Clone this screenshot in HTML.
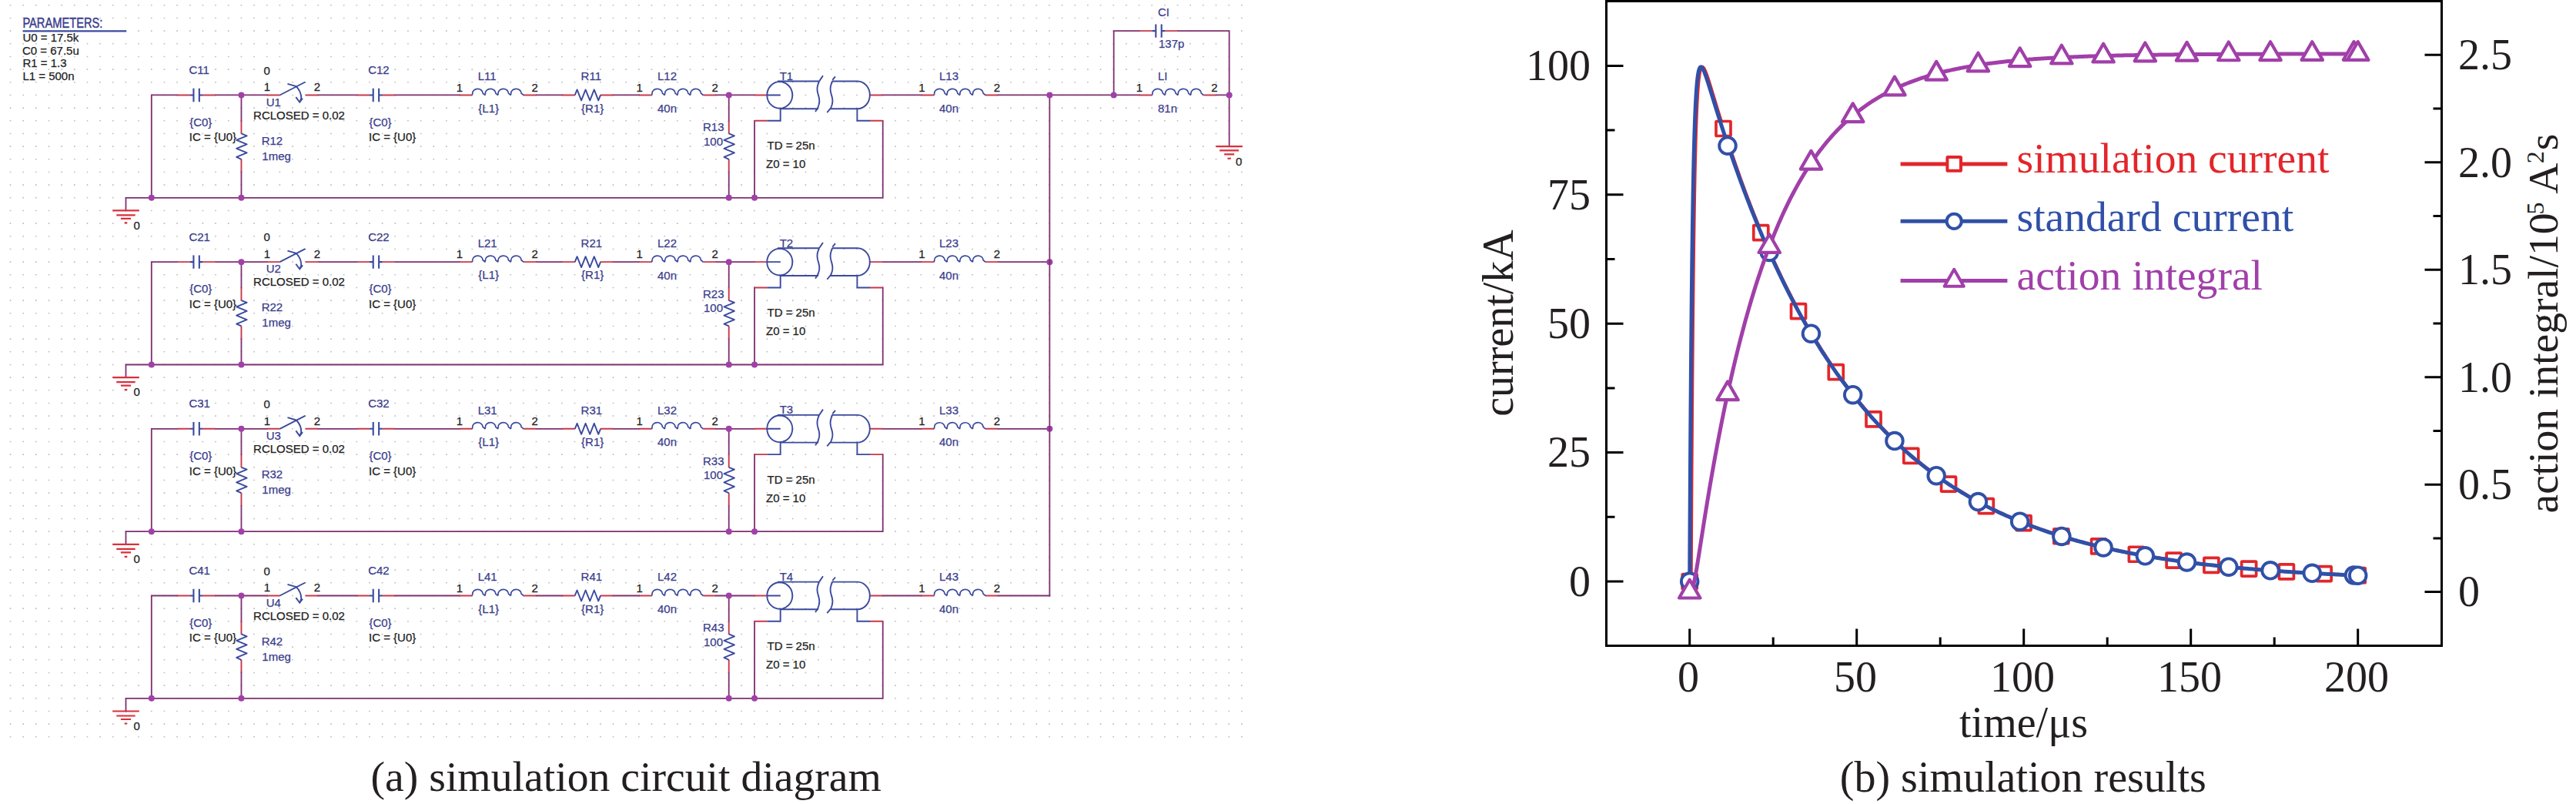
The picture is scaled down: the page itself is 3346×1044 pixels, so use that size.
<!DOCTYPE html>
<html><head><meta charset="utf-8"><title>figure</title>
<style>
html,body{margin:0;padding:0;background:#fff;}
body{width:3346px;height:1044px;overflow:hidden;position:relative;}
svg{position:absolute;left:0;top:0;display:block;}
</style></head><body>
<svg width="3346" height="1044" viewBox="0 0 3346 1044">
<defs><clipPath id="plotclip"><rect x="2088" y="3" width="1082" height="834"/></clipPath></defs>
<rect width="3346" height="1044" fill="#fff"/>
<path d="M12.7 6.8H1614.14M12.7 23.47H1614.14M12.7 40.13H1614.14M12.7 56.8H1614.14M12.7 73.47H1614.14M12.7 90.14H1614.14M12.7 106.8H1614.14M12.7 123.47H1614.14M12.7 140.14H1614.14M12.7 156.8H1614.14M12.7 173.47H1614.14M12.7 190.14H1614.14M12.7 206.8H1614.14M12.7 223.47H1614.14M12.7 240.14H1614.14M12.7 256.81H1614.14M12.7 273.47H1614.14M12.7 290.14H1614.14M12.7 306.81H1614.14M12.7 323.47H1614.14M12.7 340.14H1614.14M12.7 356.81H1614.14M12.7 373.47H1614.14M12.7 390.14H1614.14M12.7 406.81H1614.14M12.7 423.48H1614.14M12.7 440.14H1614.14M12.7 456.81H1614.14M12.7 473.48H1614.14M12.7 490.14H1614.14M12.7 506.81H1614.14M12.7 523.48H1614.14M12.7 540.14H1614.14M12.7 556.81H1614.14M12.7 573.48H1614.14M12.7 590.14H1614.14M12.7 606.81H1614.14M12.7 623.48H1614.14M12.7 640.15H1614.14M12.7 656.81H1614.14M12.7 673.48H1614.14M12.7 690.15H1614.14M12.7 706.81H1614.14M12.7 723.48H1614.14M12.7 740.15H1614.14M12.7 756.82H1614.14M12.7 773.48H1614.14M12.7 790.15H1614.14M12.7 806.82H1614.14M12.7 823.48H1614.14M12.7 840.15H1614.14M12.7 856.82H1614.14M12.7 873.48H1614.14M12.7 890.15H1614.14M12.7 906.82H1614.14M12.7 923.49H1614.14M12.7 940.15H1614.14M12.7 956.82H1614.14" stroke="#bababa" stroke-width="1.6" stroke-dasharray="1.6 15.06" fill="none"/>
<path d="M196.81 123.47L230.14 123.47M280.14 123.47L346.8 123.47M413.46 123.47L463.45 123.47M513.45 123.47L596.77 123.47M696.76 123.47L730.09 123.47M796.75 123.47L830.08 123.47M930.07 123.47L980.07 123.47M1146.72 123.47L1196.71 123.47M1296.7 123.47L1363.37 123.47M196.81 123.47L196.81 256.81M313.47 123.47L313.47 156.8M313.47 223.47L313.47 256.81M946.74 123.47L946.74 156.8M946.74 223.47L946.74 256.81M980.07 156.8L980.07 256.81M1146.72 156.8L1146.72 256.81M163.48 256.81L1146.72 256.81M163.48 256.81L163.48 273.47" stroke="#7e3070" stroke-width="1.8" fill="none" stroke-linecap="square"/>
<path d="M230.14 123.47L246.81 123.47M263.48 123.47L280.14 123.47M346.8 123.47L363.46 123.47M396.79 123.47L413.46 123.47M463.45 123.47L480.12 123.47M496.78 123.47L513.45 123.47M596.77 123.47L613.44 123.47M680.1 123.47L696.76 123.47M730.09 123.47L746.76 123.47M780.09 123.47L796.75 123.47M830.08 123.47L846.75 123.47M913.41 123.47L930.07 123.47M980.07 123.47L996.73 123.47M1130.05 123.47L1146.72 123.47M980.07 156.8L996.73 156.8M1130.05 156.8L1146.72 156.8M1196.71 123.47L1213.38 123.47M1280.04 123.47L1296.7 123.47M313.47 156.8L313.47 173.47M313.47 206.8L313.47 223.47M946.74 156.8L946.74 173.47M946.74 206.8L946.74 223.47" stroke="#c8384a" stroke-width="1.9" fill="none"/>
<path d="M246.81 123.47H251.44M251.44 114.77V132.17M258.84 114.77V132.17M258.84 123.47H263.47" stroke="#3b4a9e" stroke-width="2.1" fill="none" />
<path d="M480.12 123.47H484.75M484.75 114.77V132.17M492.15 114.77V132.17M492.15 123.47H496.78" stroke="#3b4a9e" stroke-width="2.1" fill="none" />
<path d="M363.46 123.47L396.46 106.47M373.46 108.87L384.86 112.17M384.86 112.17Q391.66 119.47 391.26 127.97L389.26 132.77M384.36 126.07L389.26 132.77L393.06 127.77" stroke="#3b4a9e" stroke-width="1.9" fill="none" />
<path d="M613.44 123.47L613.74 121.27A6.7 5.8 0 0 1 627.14 121.07L630.11 123.47M630.11 123.47L630.4 121.27A6.7 5.8 0 0 1 643.81 121.07L646.77 123.47M646.77 123.47L647.07 121.27A6.7 5.8 0 0 1 660.47 121.07L663.43 123.47M663.43 123.47L663.73 121.27A6.7 5.8 0 0 1 677.13 121.07L680.1 123.47" stroke="#3b4a9e" stroke-width="1.7" fill="none" />
<path d="M746.76 123.47L749.59 116.47L755.09 130.47L760.59 116.47L766.26 130.47L771.76 116.47L777.26 130.47L780.09 123.47" stroke="#3b4a9e" stroke-width="1.9" fill="none" stroke-linejoin="round"/>
<path d="M846.75 123.47L847.05 121.27A6.7 5.8 0 0 1 860.45 121.07L863.41 123.47M863.41 123.47L863.71 121.27A6.7 5.8 0 0 1 877.12 121.07L880.08 123.47M880.08 123.47L880.38 121.27A6.7 5.8 0 0 1 893.78 121.07L896.75 123.47M896.75 123.47L897.04 121.27A6.7 5.8 0 0 1 910.45 121.07L913.41 123.47" stroke="#3b4a9e" stroke-width="1.7" fill="none" />
<path d="M1213.38 123.47L1213.68 121.27A6.7 5.8 0 0 1 1227.08 121.07L1230.04 123.47M1230.04 123.47L1230.34 121.27A6.7 5.8 0 0 1 1243.74 121.07L1246.71 123.47M1246.71 123.47L1247.01 121.27A6.7 5.8 0 0 1 1260.41 121.07L1263.38 123.47M1263.38 123.47L1263.67 121.27A6.7 5.8 0 0 1 1277.08 121.07L1280.04 123.47" stroke="#3b4a9e" stroke-width="1.7" fill="none" />
<path d="M313.47 173.47L320.67 176.3L307.17 181.8L320.67 187.3L307.17 192.97L320.67 198.47L307.17 203.97L313.47 206.8" stroke="#3b4a9e" stroke-width="1.9" fill="none" stroke-linejoin="round"/>
<path d="M946.74 173.47L953.94 176.3L940.44 181.8L953.94 187.3L940.44 192.97L953.94 198.47L940.44 203.97L946.74 206.8" stroke="#3b4a9e" stroke-width="1.9" fill="none" stroke-linejoin="round"/>
<ellipse cx="1012.8" cy="123.47" rx="16.5" ry="17.3" stroke="#3b4a9e" stroke-width="1.9" fill="none"/>
<path d="M996.4 123.47L1013.7 123.47M1010 105.57L1064 105.57M1013.7 141.27L1063 141.27M1064.2 105.37L1063.57 106.86L1062.98 108.36L1062.46 109.86L1062.03 111.35L1061.73 112.85L1061.55 114.34L1061.51 115.84L1061.6 117.34L1061.81 118.83L1062.12 120.33L1062.49 121.82L1062.9 123.32L1063.31 124.81L1063.68 126.31L1063.99 127.81L1064.2 129.3L1064.29 130.8L1064.25 132.29L1064.07 133.79L1063.77 135.29L1063.34 136.78L1062.82 138.28L1062.23 139.77L1061.6 141.27M1064.2 105.37L1069 98.27M1061.9 140.87L1059 144.97M1081.3 105.37L1080.67 106.86L1080.08 108.36L1079.56 109.86L1079.13 111.35L1078.83 112.85L1078.65 114.34L1078.61 115.84L1078.7 117.34L1078.91 118.83L1079.22 120.33L1079.59 121.82L1080 123.32L1080.41 124.81L1080.78 126.31L1081.09 127.81L1081.3 129.3L1081.39 130.8L1081.35 132.29L1081.17 133.79L1080.87 135.29L1080.44 136.78L1079.92 138.28L1079.33 139.77L1078.7 141.27M1081.3 103.97L1085 99.47M1078.7 140.87L1074.3 146.07M1080.7 105.57L1113.9 105.57A16.2 17.85 0 0 1 1113.4 141.27M1078.9 141.27L1113.4 141.27M1013.7 141.27L1013.7 156.8L996.73 156.8M1113.4 141.27L1113.4 156.8L1130.07 156.8" stroke="#3b4a9e" stroke-width="1.9" fill="none" />
<path d="M146.28 273.47H180.68M151.28 279.47H175.68M156.88 283.97H170.08M161.68 289.47H165.28" stroke="#d8303c" stroke-width="2.2" fill="none" />
<circle cx="313.47" cy="123.47" r="4" fill="#a040a8"/>
<circle cx="313.47" cy="256.81" r="4" fill="#a040a8"/>
<circle cx="196.81" cy="256.81" r="4" fill="#a040a8"/>
<circle cx="946.74" cy="123.47" r="4" fill="#a040a8"/>
<circle cx="946.74" cy="256.81" r="4" fill="#a040a8"/>
<circle cx="980.07" cy="256.81" r="4" fill="#a040a8"/>
<text x="245.4" y="96" fill="#3a3d8c" font-family="'Liberation Sans', sans-serif" font-size="15" stroke="#3a3d8c" stroke-width="0.25">C11</text>
<text x="346.7" y="96.5" fill="#222" font-family="'Liberation Sans', sans-serif" font-size="15" text-anchor="middle" stroke="#222" stroke-width="0.25">0</text>
<text x="346.8" y="118.3" fill="#222" font-family="'Liberation Sans', sans-serif" font-size="15" text-anchor="middle" stroke="#222" stroke-width="0.25">1</text>
<text x="412" y="118.3" fill="#222" font-family="'Liberation Sans', sans-serif" font-size="15" text-anchor="middle" stroke="#222" stroke-width="0.25">2</text>
<text x="345.7" y="137.6" fill="#3a3d8c" font-family="'Liberation Sans', sans-serif" font-size="15" stroke="#3a3d8c" stroke-width="0.25">U1</text>
<text x="329.1" y="154.6" fill="#222" font-family="'Liberation Sans', sans-serif" font-size="15" stroke="#222" stroke-width="0.25">RCLOSED = 0.02</text>
<text x="478.2" y="96" fill="#3a3d8c" font-family="'Liberation Sans', sans-serif" font-size="15" stroke="#3a3d8c" stroke-width="0.25">C12</text>
<text x="246.2" y="163.8" fill="#3a3d8c" font-family="'Liberation Sans', sans-serif" font-size="15" stroke="#3a3d8c" stroke-width="0.25">{C0}</text>
<text x="245.8" y="183.2" fill="#222" font-family="'Liberation Sans', sans-serif" font-size="15" stroke="#222" stroke-width="0.25">IC = {U0}</text>
<text x="339.7" y="187.8" fill="#3a3d8c" font-family="'Liberation Sans', sans-serif" font-size="15" stroke="#3a3d8c" stroke-width="0.25">R12</text>
<text x="340.3" y="207.8" fill="#3a3d8c" font-family="'Liberation Sans', sans-serif" font-size="15" stroke="#3a3d8c" stroke-width="0.25">1meg</text>
<text x="479.4" y="163.8" fill="#3a3d8c" font-family="'Liberation Sans', sans-serif" font-size="15" stroke="#3a3d8c" stroke-width="0.25">{C0}</text>
<text x="479" y="183.2" fill="#222" font-family="'Liberation Sans', sans-serif" font-size="15" stroke="#222" stroke-width="0.25">IC = {U0}</text>
<text x="597" y="118.5" fill="#222" font-family="'Liberation Sans', sans-serif" font-size="15" text-anchor="middle" stroke="#222" stroke-width="0.25">1</text>
<text x="694.7" y="118.5" fill="#222" font-family="'Liberation Sans', sans-serif" font-size="15" text-anchor="middle" stroke="#222" stroke-width="0.25">2</text>
<text x="620.7" y="104.2" fill="#3a3d8c" font-family="'Liberation Sans', sans-serif" font-size="15" stroke="#3a3d8c" stroke-width="0.25">L11</text>
<text x="621.3" y="145.6" fill="#3a3d8c" font-family="'Liberation Sans', sans-serif" font-size="15" stroke="#3a3d8c" stroke-width="0.25">{L1}</text>
<text x="754.6" y="104.2" fill="#3a3d8c" font-family="'Liberation Sans', sans-serif" font-size="15" stroke="#3a3d8c" stroke-width="0.25">R11</text>
<text x="755.1" y="145.6" fill="#3a3d8c" font-family="'Liberation Sans', sans-serif" font-size="15" stroke="#3a3d8c" stroke-width="0.25">{R1}</text>
<text x="830.6" y="118.5" fill="#222" font-family="'Liberation Sans', sans-serif" font-size="15" text-anchor="middle" stroke="#222" stroke-width="0.25">1</text>
<text x="928.7" y="118.5" fill="#222" font-family="'Liberation Sans', sans-serif" font-size="15" text-anchor="middle" stroke="#222" stroke-width="0.25">2</text>
<text x="854" y="104.2" fill="#3a3d8c" font-family="'Liberation Sans', sans-serif" font-size="15" stroke="#3a3d8c" stroke-width="0.25">L12</text>
<text x="854" y="146" fill="#3a3d8c" font-family="'Liberation Sans', sans-serif" font-size="15" stroke="#3a3d8c" stroke-width="0.25">40n</text>
<text x="913" y="170.2" fill="#3a3d8c" font-family="'Liberation Sans', sans-serif" font-size="15" stroke="#3a3d8c" stroke-width="0.25">R13</text>
<text x="914" y="188.6" fill="#3a3d8c" font-family="'Liberation Sans', sans-serif" font-size="15" stroke="#3a3d8c" stroke-width="0.25">100</text>
<text x="1012.7" y="104" fill="#3a3d8c" font-family="'Liberation Sans', sans-serif" font-size="15" stroke="#3a3d8c" stroke-width="0.25">T1</text>
<text x="996.5" y="194.2" fill="#222" font-family="'Liberation Sans', sans-serif" font-size="15" stroke="#222" stroke-width="0.25">TD = 25n</text>
<text x="995" y="218.2" fill="#222" font-family="'Liberation Sans', sans-serif" font-size="15" stroke="#222" stroke-width="0.25">Z0 = 10</text>
<text x="1197.5" y="118.5" fill="#222" font-family="'Liberation Sans', sans-serif" font-size="15" text-anchor="middle" stroke="#222" stroke-width="0.25">1</text>
<text x="1295" y="118.5" fill="#222" font-family="'Liberation Sans', sans-serif" font-size="15" text-anchor="middle" stroke="#222" stroke-width="0.25">2</text>
<text x="1220" y="104.3" fill="#3a3d8c" font-family="'Liberation Sans', sans-serif" font-size="15" stroke="#3a3d8c" stroke-width="0.25">L13</text>
<text x="1220" y="146" fill="#3a3d8c" font-family="'Liberation Sans', sans-serif" font-size="15" stroke="#3a3d8c" stroke-width="0.25">40n</text>
<text x="173.4" y="297.6" fill="#222" font-family="'Liberation Sans', sans-serif" font-size="15" stroke="#222" stroke-width="0.25">0</text>
<path d="M196.81 340.14L230.14 340.14M280.14 340.14L346.8 340.14M413.46 340.14L463.45 340.14M513.45 340.14L596.77 340.14M696.76 340.14L730.09 340.14M796.75 340.14L830.08 340.14M930.07 340.14L980.07 340.14M1146.72 340.14L1196.71 340.14M1296.7 340.14L1363.37 340.14M196.81 340.14L196.81 473.48M313.47 340.14L313.47 373.47M313.47 440.14L313.47 473.48M946.74 340.14L946.74 373.47M946.74 440.14L946.74 473.48M980.07 373.47L980.07 473.48M1146.72 373.47L1146.72 473.48M163.48 473.48L1146.72 473.48M163.48 473.48L163.48 490.14" stroke="#7e3070" stroke-width="1.8" fill="none" stroke-linecap="square"/>
<path d="M230.14 340.14L246.81 340.14M263.48 340.14L280.14 340.14M346.8 340.14L363.46 340.14M396.79 340.14L413.46 340.14M463.45 340.14L480.12 340.14M496.78 340.14L513.45 340.14M596.77 340.14L613.44 340.14M680.1 340.14L696.76 340.14M730.09 340.14L746.76 340.14M780.09 340.14L796.75 340.14M830.08 340.14L846.75 340.14M913.41 340.14L930.07 340.14M980.07 340.14L996.73 340.14M1130.05 340.14L1146.72 340.14M980.07 373.47L996.73 373.47M1130.05 373.47L1146.72 373.47M1196.71 340.14L1213.38 340.14M1280.04 340.14L1296.7 340.14M313.47 373.47L313.47 390.14M313.47 423.48L313.47 440.14M946.74 373.47L946.74 390.14M946.74 423.48L946.74 440.14" stroke="#c8384a" stroke-width="1.9" fill="none"/>
<path d="M246.81 340.14H251.44M251.44 331.44V348.84M258.84 331.44V348.84M258.84 340.14H263.47" stroke="#3b4a9e" stroke-width="2.1" fill="none" />
<path d="M480.12 340.14H484.75M484.75 331.44V348.84M492.15 331.44V348.84M492.15 340.14H496.78" stroke="#3b4a9e" stroke-width="2.1" fill="none" />
<path d="M363.46 340.14L396.46 323.14M373.46 325.54L384.86 328.84M384.86 328.84Q391.66 336.14 391.26 344.64L389.26 349.44M384.36 342.74L389.26 349.44L393.06 344.44" stroke="#3b4a9e" stroke-width="1.9" fill="none" />
<path d="M613.44 340.14L613.74 337.94A6.7 5.8 0 0 1 627.14 337.74L630.11 340.14M630.11 340.14L630.4 337.94A6.7 5.8 0 0 1 643.81 337.74L646.77 340.14M646.77 340.14L647.07 337.94A6.7 5.8 0 0 1 660.47 337.74L663.43 340.14M663.43 340.14L663.73 337.94A6.7 5.8 0 0 1 677.13 337.74L680.1 340.14" stroke="#3b4a9e" stroke-width="1.7" fill="none" />
<path d="M746.76 340.14L749.59 333.14L755.09 347.14L760.59 333.14L766.26 347.14L771.76 333.14L777.26 347.14L780.09 340.14" stroke="#3b4a9e" stroke-width="1.9" fill="none" stroke-linejoin="round"/>
<path d="M846.75 340.14L847.05 337.94A6.7 5.8 0 0 1 860.45 337.74L863.41 340.14M863.41 340.14L863.71 337.94A6.7 5.8 0 0 1 877.12 337.74L880.08 340.14M880.08 340.14L880.38 337.94A6.7 5.8 0 0 1 893.78 337.74L896.75 340.14M896.75 340.14L897.04 337.94A6.7 5.8 0 0 1 910.45 337.74L913.41 340.14" stroke="#3b4a9e" stroke-width="1.7" fill="none" />
<path d="M1213.38 340.14L1213.68 337.94A6.7 5.8 0 0 1 1227.08 337.74L1230.04 340.14M1230.04 340.14L1230.34 337.94A6.7 5.8 0 0 1 1243.74 337.74L1246.71 340.14M1246.71 340.14L1247.01 337.94A6.7 5.8 0 0 1 1260.41 337.74L1263.38 340.14M1263.38 340.14L1263.67 337.94A6.7 5.8 0 0 1 1277.08 337.74L1280.04 340.14" stroke="#3b4a9e" stroke-width="1.7" fill="none" />
<path d="M313.47 390.14L320.67 392.97L307.17 398.47L320.67 403.97L307.17 409.64L320.67 415.14L307.17 420.64L313.47 423.48" stroke="#3b4a9e" stroke-width="1.9" fill="none" stroke-linejoin="round"/>
<path d="M946.74 390.14L953.94 392.97L940.44 398.47L953.94 403.97L940.44 409.64L953.94 415.14L940.44 420.64L946.74 423.48" stroke="#3b4a9e" stroke-width="1.9" fill="none" stroke-linejoin="round"/>
<ellipse cx="1012.8" cy="340.14" rx="16.5" ry="17.3" stroke="#3b4a9e" stroke-width="1.9" fill="none"/>
<path d="M996.4 340.14L1013.7 340.14M1010 322.24L1064 322.24M1013.7 357.94L1063 357.94M1064.2 322.04L1063.57 323.54L1062.98 325.03L1062.46 326.53L1062.03 328.02L1061.73 329.52L1061.55 331.02L1061.51 332.51L1061.6 334.01L1061.81 335.5L1062.12 337L1062.49 338.49L1062.9 339.99L1063.31 341.49L1063.68 342.98L1063.99 344.48L1064.2 345.97L1064.29 347.47L1064.25 348.97L1064.07 350.46L1063.77 351.96L1063.34 353.45L1062.82 354.95L1062.23 356.44L1061.6 357.94M1064.2 322.04L1069 314.94M1061.9 357.54L1059 361.64M1081.3 322.04L1080.67 323.54L1080.08 325.03L1079.56 326.53L1079.13 328.02L1078.83 329.52L1078.65 331.02L1078.61 332.51L1078.7 334.01L1078.91 335.5L1079.22 337L1079.59 338.49L1080 339.99L1080.41 341.49L1080.78 342.98L1081.09 344.48L1081.3 345.97L1081.39 347.47L1081.35 348.97L1081.17 350.46L1080.87 351.96L1080.44 353.45L1079.92 354.95L1079.33 356.44L1078.7 357.94M1081.3 320.64L1085 316.14M1078.7 357.54L1074.3 362.74M1080.7 322.24L1113.9 322.24A16.2 17.85 0 0 1 1113.4 357.94M1078.9 357.94L1113.4 357.94M1013.7 357.94L1013.7 373.47L996.73 373.47M1113.4 357.94L1113.4 373.47L1130.07 373.47" stroke="#3b4a9e" stroke-width="1.9" fill="none" />
<path d="M146.28 490.14H180.68M151.28 496.14H175.68M156.88 500.64H170.08M161.68 506.14H165.28" stroke="#d8303c" stroke-width="2.2" fill="none" />
<circle cx="313.47" cy="340.14" r="4" fill="#a040a8"/>
<circle cx="313.47" cy="473.48" r="4" fill="#a040a8"/>
<circle cx="196.81" cy="473.48" r="4" fill="#a040a8"/>
<circle cx="946.74" cy="340.14" r="4" fill="#a040a8"/>
<circle cx="946.74" cy="473.48" r="4" fill="#a040a8"/>
<circle cx="980.07" cy="473.48" r="4" fill="#a040a8"/>
<circle cx="1363.37" cy="340.14" r="4" fill="#a040a8"/>
<text x="245.4" y="312.67" fill="#3a3d8c" font-family="'Liberation Sans', sans-serif" font-size="15" stroke="#3a3d8c" stroke-width="0.25">C21</text>
<text x="346.7" y="313.17" fill="#222" font-family="'Liberation Sans', sans-serif" font-size="15" text-anchor="middle" stroke="#222" stroke-width="0.25">0</text>
<text x="346.8" y="334.97" fill="#222" font-family="'Liberation Sans', sans-serif" font-size="15" text-anchor="middle" stroke="#222" stroke-width="0.25">1</text>
<text x="412" y="334.97" fill="#222" font-family="'Liberation Sans', sans-serif" font-size="15" text-anchor="middle" stroke="#222" stroke-width="0.25">2</text>
<text x="345.7" y="354.27" fill="#3a3d8c" font-family="'Liberation Sans', sans-serif" font-size="15" stroke="#3a3d8c" stroke-width="0.25">U2</text>
<text x="329.1" y="371.27" fill="#222" font-family="'Liberation Sans', sans-serif" font-size="15" stroke="#222" stroke-width="0.25">RCLOSED = 0.02</text>
<text x="478.2" y="312.67" fill="#3a3d8c" font-family="'Liberation Sans', sans-serif" font-size="15" stroke="#3a3d8c" stroke-width="0.25">C22</text>
<text x="246.2" y="380.47" fill="#3a3d8c" font-family="'Liberation Sans', sans-serif" font-size="15" stroke="#3a3d8c" stroke-width="0.25">{C0}</text>
<text x="245.8" y="399.87" fill="#222" font-family="'Liberation Sans', sans-serif" font-size="15" stroke="#222" stroke-width="0.25">IC = {U0}</text>
<text x="339.7" y="404.47" fill="#3a3d8c" font-family="'Liberation Sans', sans-serif" font-size="15" stroke="#3a3d8c" stroke-width="0.25">R22</text>
<text x="340.3" y="424.47" fill="#3a3d8c" font-family="'Liberation Sans', sans-serif" font-size="15" stroke="#3a3d8c" stroke-width="0.25">1meg</text>
<text x="479.4" y="380.47" fill="#3a3d8c" font-family="'Liberation Sans', sans-serif" font-size="15" stroke="#3a3d8c" stroke-width="0.25">{C0}</text>
<text x="479" y="399.87" fill="#222" font-family="'Liberation Sans', sans-serif" font-size="15" stroke="#222" stroke-width="0.25">IC = {U0}</text>
<text x="597" y="335.17" fill="#222" font-family="'Liberation Sans', sans-serif" font-size="15" text-anchor="middle" stroke="#222" stroke-width="0.25">1</text>
<text x="694.7" y="335.17" fill="#222" font-family="'Liberation Sans', sans-serif" font-size="15" text-anchor="middle" stroke="#222" stroke-width="0.25">2</text>
<text x="620.7" y="320.87" fill="#3a3d8c" font-family="'Liberation Sans', sans-serif" font-size="15" stroke="#3a3d8c" stroke-width="0.25">L21</text>
<text x="621.3" y="362.27" fill="#3a3d8c" font-family="'Liberation Sans', sans-serif" font-size="15" stroke="#3a3d8c" stroke-width="0.25">{L1}</text>
<text x="754.6" y="320.87" fill="#3a3d8c" font-family="'Liberation Sans', sans-serif" font-size="15" stroke="#3a3d8c" stroke-width="0.25">R21</text>
<text x="755.1" y="362.27" fill="#3a3d8c" font-family="'Liberation Sans', sans-serif" font-size="15" stroke="#3a3d8c" stroke-width="0.25">{R1}</text>
<text x="830.6" y="335.17" fill="#222" font-family="'Liberation Sans', sans-serif" font-size="15" text-anchor="middle" stroke="#222" stroke-width="0.25">1</text>
<text x="928.7" y="335.17" fill="#222" font-family="'Liberation Sans', sans-serif" font-size="15" text-anchor="middle" stroke="#222" stroke-width="0.25">2</text>
<text x="854" y="320.87" fill="#3a3d8c" font-family="'Liberation Sans', sans-serif" font-size="15" stroke="#3a3d8c" stroke-width="0.25">L22</text>
<text x="854" y="362.67" fill="#3a3d8c" font-family="'Liberation Sans', sans-serif" font-size="15" stroke="#3a3d8c" stroke-width="0.25">40n</text>
<text x="913" y="386.87" fill="#3a3d8c" font-family="'Liberation Sans', sans-serif" font-size="15" stroke="#3a3d8c" stroke-width="0.25">R23</text>
<text x="914" y="405.27" fill="#3a3d8c" font-family="'Liberation Sans', sans-serif" font-size="15" stroke="#3a3d8c" stroke-width="0.25">100</text>
<text x="1012.7" y="320.67" fill="#3a3d8c" font-family="'Liberation Sans', sans-serif" font-size="15" stroke="#3a3d8c" stroke-width="0.25">T2</text>
<text x="996.5" y="410.87" fill="#222" font-family="'Liberation Sans', sans-serif" font-size="15" stroke="#222" stroke-width="0.25">TD = 25n</text>
<text x="995" y="434.87" fill="#222" font-family="'Liberation Sans', sans-serif" font-size="15" stroke="#222" stroke-width="0.25">Z0 = 10</text>
<text x="1197.5" y="335.17" fill="#222" font-family="'Liberation Sans', sans-serif" font-size="15" text-anchor="middle" stroke="#222" stroke-width="0.25">1</text>
<text x="1295" y="335.17" fill="#222" font-family="'Liberation Sans', sans-serif" font-size="15" text-anchor="middle" stroke="#222" stroke-width="0.25">2</text>
<text x="1220" y="320.97" fill="#3a3d8c" font-family="'Liberation Sans', sans-serif" font-size="15" stroke="#3a3d8c" stroke-width="0.25">L23</text>
<text x="1220" y="362.67" fill="#3a3d8c" font-family="'Liberation Sans', sans-serif" font-size="15" stroke="#3a3d8c" stroke-width="0.25">40n</text>
<text x="173.4" y="514.27" fill="#222" font-family="'Liberation Sans', sans-serif" font-size="15" stroke="#222" stroke-width="0.25">0</text>
<path d="M196.81 556.81L230.14 556.81M280.14 556.81L346.8 556.81M413.46 556.81L463.45 556.81M513.45 556.81L596.77 556.81M696.76 556.81L730.09 556.81M796.75 556.81L830.08 556.81M930.07 556.81L980.07 556.81M1146.72 556.81L1196.71 556.81M1296.7 556.81L1363.37 556.81M196.81 556.81L196.81 690.15M313.47 556.81L313.47 590.14M313.47 656.81L313.47 690.15M946.74 556.81L946.74 590.14M946.74 656.81L946.74 690.15M980.07 590.14L980.07 690.15M1146.72 590.14L1146.72 690.15M163.48 690.15L1146.72 690.15M163.48 690.15L163.48 706.81" stroke="#7e3070" stroke-width="1.8" fill="none" stroke-linecap="square"/>
<path d="M230.14 556.81L246.81 556.81M263.48 556.81L280.14 556.81M346.8 556.81L363.46 556.81M396.79 556.81L413.46 556.81M463.45 556.81L480.12 556.81M496.78 556.81L513.45 556.81M596.77 556.81L613.44 556.81M680.1 556.81L696.76 556.81M730.09 556.81L746.76 556.81M780.09 556.81L796.75 556.81M830.08 556.81L846.75 556.81M913.41 556.81L930.07 556.81M980.07 556.81L996.73 556.81M1130.05 556.81L1146.72 556.81M980.07 590.14L996.73 590.14M1130.05 590.14L1146.72 590.14M1196.71 556.81L1213.38 556.81M1280.04 556.81L1296.7 556.81M313.47 590.14L313.47 606.81M313.47 640.15L313.47 656.81M946.74 590.14L946.74 606.81M946.74 640.15L946.74 656.81" stroke="#c8384a" stroke-width="1.9" fill="none"/>
<path d="M246.81 556.81H251.44M251.44 548.11V565.51M258.84 548.11V565.51M258.84 556.81H263.47" stroke="#3b4a9e" stroke-width="2.1" fill="none" />
<path d="M480.12 556.81H484.75M484.75 548.11V565.51M492.15 548.11V565.51M492.15 556.81H496.78" stroke="#3b4a9e" stroke-width="2.1" fill="none" />
<path d="M363.46 556.81L396.46 539.81M373.46 542.21L384.86 545.51M384.86 545.51Q391.66 552.81 391.26 561.31L389.26 566.11M384.36 559.41L389.26 566.11L393.06 561.11" stroke="#3b4a9e" stroke-width="1.9" fill="none" />
<path d="M613.44 556.81L613.74 554.61A6.7 5.8 0 0 1 627.14 554.41L630.11 556.81M630.11 556.81L630.4 554.61A6.7 5.8 0 0 1 643.81 554.41L646.77 556.81M646.77 556.81L647.07 554.61A6.7 5.8 0 0 1 660.47 554.41L663.43 556.81M663.43 556.81L663.73 554.61A6.7 5.8 0 0 1 677.13 554.41L680.1 556.81" stroke="#3b4a9e" stroke-width="1.7" fill="none" />
<path d="M746.76 556.81L749.59 549.81L755.09 563.81L760.59 549.81L766.26 563.81L771.76 549.81L777.26 563.81L780.09 556.81" stroke="#3b4a9e" stroke-width="1.9" fill="none" stroke-linejoin="round"/>
<path d="M846.75 556.81L847.05 554.61A6.7 5.8 0 0 1 860.45 554.41L863.41 556.81M863.41 556.81L863.71 554.61A6.7 5.8 0 0 1 877.12 554.41L880.08 556.81M880.08 556.81L880.38 554.61A6.7 5.8 0 0 1 893.78 554.41L896.75 556.81M896.75 556.81L897.04 554.61A6.7 5.8 0 0 1 910.45 554.41L913.41 556.81" stroke="#3b4a9e" stroke-width="1.7" fill="none" />
<path d="M1213.38 556.81L1213.68 554.61A6.7 5.8 0 0 1 1227.08 554.41L1230.04 556.81M1230.04 556.81L1230.34 554.61A6.7 5.8 0 0 1 1243.74 554.41L1246.71 556.81M1246.71 556.81L1247.01 554.61A6.7 5.8 0 0 1 1260.41 554.41L1263.38 556.81M1263.38 556.81L1263.67 554.61A6.7 5.8 0 0 1 1277.08 554.41L1280.04 556.81" stroke="#3b4a9e" stroke-width="1.7" fill="none" />
<path d="M313.47 606.81L320.67 609.65L307.17 615.15L320.67 620.65L307.17 626.31L320.67 631.81L307.17 637.31L313.47 640.15" stroke="#3b4a9e" stroke-width="1.9" fill="none" stroke-linejoin="round"/>
<path d="M946.74 606.81L953.94 609.65L940.44 615.15L953.94 620.65L940.44 626.31L953.94 631.81L940.44 637.31L946.74 640.15" stroke="#3b4a9e" stroke-width="1.9" fill="none" stroke-linejoin="round"/>
<ellipse cx="1012.8" cy="556.81" rx="16.5" ry="17.3" stroke="#3b4a9e" stroke-width="1.9" fill="none"/>
<path d="M996.4 556.81L1013.7 556.81M1010 538.91L1064 538.91M1013.7 574.61L1063 574.61M1064.2 538.71L1063.57 540.21L1062.98 541.7L1062.46 543.2L1062.03 544.69L1061.73 546.19L1061.55 547.69L1061.51 549.18L1061.6 550.68L1061.81 552.17L1062.12 553.67L1062.49 555.17L1062.9 556.66L1063.31 558.16L1063.68 559.65L1063.99 561.15L1064.2 562.64L1064.29 564.14L1064.25 565.64L1064.07 567.13L1063.77 568.63L1063.34 570.12L1062.82 571.62L1062.23 573.12L1061.6 574.61M1064.2 538.71L1069 531.61M1061.9 574.21L1059 578.31M1081.3 538.71L1080.67 540.21L1080.08 541.7L1079.56 543.2L1079.13 544.69L1078.83 546.19L1078.65 547.69L1078.61 549.18L1078.7 550.68L1078.91 552.17L1079.22 553.67L1079.59 555.17L1080 556.66L1080.41 558.16L1080.78 559.65L1081.09 561.15L1081.3 562.64L1081.39 564.14L1081.35 565.64L1081.17 567.13L1080.87 568.63L1080.44 570.12L1079.92 571.62L1079.33 573.12L1078.7 574.61M1081.3 537.31L1085 532.81M1078.7 574.21L1074.3 579.41M1080.7 538.91L1113.9 538.91A16.2 17.85 0 0 1 1113.4 574.61M1078.9 574.61L1113.4 574.61M1013.7 574.61L1013.7 590.14L996.73 590.14M1113.4 574.61L1113.4 590.14L1130.07 590.14" stroke="#3b4a9e" stroke-width="1.9" fill="none" />
<path d="M146.28 706.81H180.68M151.28 712.81H175.68M156.88 717.31H170.08M161.68 722.81H165.28" stroke="#d8303c" stroke-width="2.2" fill="none" />
<circle cx="313.47" cy="556.81" r="4" fill="#a040a8"/>
<circle cx="313.47" cy="690.15" r="4" fill="#a040a8"/>
<circle cx="196.81" cy="690.15" r="4" fill="#a040a8"/>
<circle cx="946.74" cy="556.81" r="4" fill="#a040a8"/>
<circle cx="946.74" cy="690.15" r="4" fill="#a040a8"/>
<circle cx="980.07" cy="690.15" r="4" fill="#a040a8"/>
<circle cx="1363.37" cy="556.81" r="4" fill="#a040a8"/>
<text x="245.4" y="529.33" fill="#3a3d8c" font-family="'Liberation Sans', sans-serif" font-size="15" stroke="#3a3d8c" stroke-width="0.25">C31</text>
<text x="346.7" y="529.83" fill="#222" font-family="'Liberation Sans', sans-serif" font-size="15" text-anchor="middle" stroke="#222" stroke-width="0.25">0</text>
<text x="346.8" y="551.63" fill="#222" font-family="'Liberation Sans', sans-serif" font-size="15" text-anchor="middle" stroke="#222" stroke-width="0.25">1</text>
<text x="412" y="551.63" fill="#222" font-family="'Liberation Sans', sans-serif" font-size="15" text-anchor="middle" stroke="#222" stroke-width="0.25">2</text>
<text x="345.7" y="570.93" fill="#3a3d8c" font-family="'Liberation Sans', sans-serif" font-size="15" stroke="#3a3d8c" stroke-width="0.25">U3</text>
<text x="329.1" y="587.93" fill="#222" font-family="'Liberation Sans', sans-serif" font-size="15" stroke="#222" stroke-width="0.25">RCLOSED = 0.02</text>
<text x="478.2" y="529.33" fill="#3a3d8c" font-family="'Liberation Sans', sans-serif" font-size="15" stroke="#3a3d8c" stroke-width="0.25">C32</text>
<text x="246.2" y="597.13" fill="#3a3d8c" font-family="'Liberation Sans', sans-serif" font-size="15" stroke="#3a3d8c" stroke-width="0.25">{C0}</text>
<text x="245.8" y="616.53" fill="#222" font-family="'Liberation Sans', sans-serif" font-size="15" stroke="#222" stroke-width="0.25">IC = {U0}</text>
<text x="339.7" y="621.13" fill="#3a3d8c" font-family="'Liberation Sans', sans-serif" font-size="15" stroke="#3a3d8c" stroke-width="0.25">R32</text>
<text x="340.3" y="641.13" fill="#3a3d8c" font-family="'Liberation Sans', sans-serif" font-size="15" stroke="#3a3d8c" stroke-width="0.25">1meg</text>
<text x="479.4" y="597.13" fill="#3a3d8c" font-family="'Liberation Sans', sans-serif" font-size="15" stroke="#3a3d8c" stroke-width="0.25">{C0}</text>
<text x="479" y="616.53" fill="#222" font-family="'Liberation Sans', sans-serif" font-size="15" stroke="#222" stroke-width="0.25">IC = {U0}</text>
<text x="597" y="551.83" fill="#222" font-family="'Liberation Sans', sans-serif" font-size="15" text-anchor="middle" stroke="#222" stroke-width="0.25">1</text>
<text x="694.7" y="551.83" fill="#222" font-family="'Liberation Sans', sans-serif" font-size="15" text-anchor="middle" stroke="#222" stroke-width="0.25">2</text>
<text x="620.7" y="537.53" fill="#3a3d8c" font-family="'Liberation Sans', sans-serif" font-size="15" stroke="#3a3d8c" stroke-width="0.25">L31</text>
<text x="621.3" y="578.93" fill="#3a3d8c" font-family="'Liberation Sans', sans-serif" font-size="15" stroke="#3a3d8c" stroke-width="0.25">{L1}</text>
<text x="754.6" y="537.53" fill="#3a3d8c" font-family="'Liberation Sans', sans-serif" font-size="15" stroke="#3a3d8c" stroke-width="0.25">R31</text>
<text x="755.1" y="578.93" fill="#3a3d8c" font-family="'Liberation Sans', sans-serif" font-size="15" stroke="#3a3d8c" stroke-width="0.25">{R1}</text>
<text x="830.6" y="551.83" fill="#222" font-family="'Liberation Sans', sans-serif" font-size="15" text-anchor="middle" stroke="#222" stroke-width="0.25">1</text>
<text x="928.7" y="551.83" fill="#222" font-family="'Liberation Sans', sans-serif" font-size="15" text-anchor="middle" stroke="#222" stroke-width="0.25">2</text>
<text x="854" y="537.53" fill="#3a3d8c" font-family="'Liberation Sans', sans-serif" font-size="15" stroke="#3a3d8c" stroke-width="0.25">L32</text>
<text x="854" y="579.33" fill="#3a3d8c" font-family="'Liberation Sans', sans-serif" font-size="15" stroke="#3a3d8c" stroke-width="0.25">40n</text>
<text x="913" y="603.53" fill="#3a3d8c" font-family="'Liberation Sans', sans-serif" font-size="15" stroke="#3a3d8c" stroke-width="0.25">R33</text>
<text x="914" y="621.93" fill="#3a3d8c" font-family="'Liberation Sans', sans-serif" font-size="15" stroke="#3a3d8c" stroke-width="0.25">100</text>
<text x="1012.7" y="537.33" fill="#3a3d8c" font-family="'Liberation Sans', sans-serif" font-size="15" stroke="#3a3d8c" stroke-width="0.25">T3</text>
<text x="996.5" y="627.53" fill="#222" font-family="'Liberation Sans', sans-serif" font-size="15" stroke="#222" stroke-width="0.25">TD = 25n</text>
<text x="995" y="651.53" fill="#222" font-family="'Liberation Sans', sans-serif" font-size="15" stroke="#222" stroke-width="0.25">Z0 = 10</text>
<text x="1197.5" y="551.83" fill="#222" font-family="'Liberation Sans', sans-serif" font-size="15" text-anchor="middle" stroke="#222" stroke-width="0.25">1</text>
<text x="1295" y="551.83" fill="#222" font-family="'Liberation Sans', sans-serif" font-size="15" text-anchor="middle" stroke="#222" stroke-width="0.25">2</text>
<text x="1220" y="537.63" fill="#3a3d8c" font-family="'Liberation Sans', sans-serif" font-size="15" stroke="#3a3d8c" stroke-width="0.25">L33</text>
<text x="1220" y="579.33" fill="#3a3d8c" font-family="'Liberation Sans', sans-serif" font-size="15" stroke="#3a3d8c" stroke-width="0.25">40n</text>
<text x="173.4" y="730.93" fill="#222" font-family="'Liberation Sans', sans-serif" font-size="15" stroke="#222" stroke-width="0.25">0</text>
<path d="M196.81 773.48L230.14 773.48M280.14 773.48L346.8 773.48M413.46 773.48L463.45 773.48M513.45 773.48L596.77 773.48M696.76 773.48L730.09 773.48M796.75 773.48L830.08 773.48M930.07 773.48L980.07 773.48M1146.72 773.48L1196.71 773.48M1296.7 773.48L1363.37 773.48M196.81 773.48L196.81 906.82M313.47 773.48L313.47 806.82M313.47 873.48L313.47 906.82M946.74 773.48L946.74 806.82M946.74 873.48L946.74 906.82M980.07 806.82L980.07 906.82M1146.72 806.82L1146.72 906.82M163.48 906.82L1146.72 906.82M163.48 906.82L163.48 923.49" stroke="#7e3070" stroke-width="1.8" fill="none" stroke-linecap="square"/>
<path d="M230.14 773.48L246.81 773.48M263.48 773.48L280.14 773.48M346.8 773.48L363.46 773.48M396.79 773.48L413.46 773.48M463.45 773.48L480.12 773.48M496.78 773.48L513.45 773.48M596.77 773.48L613.44 773.48M680.1 773.48L696.76 773.48M730.09 773.48L746.76 773.48M780.09 773.48L796.75 773.48M830.08 773.48L846.75 773.48M913.41 773.48L930.07 773.48M980.07 773.48L996.73 773.48M1130.05 773.48L1146.72 773.48M980.07 806.82L996.73 806.82M1130.05 806.82L1146.72 806.82M1196.71 773.48L1213.38 773.48M1280.04 773.48L1296.7 773.48M313.47 806.82L313.47 823.48M313.47 856.82L313.47 873.48M946.74 806.82L946.74 823.48M946.74 856.82L946.74 873.48" stroke="#c8384a" stroke-width="1.9" fill="none"/>
<path d="M246.81 773.48H251.44M251.44 764.78V782.18M258.84 764.78V782.18M258.84 773.48H263.47" stroke="#3b4a9e" stroke-width="2.1" fill="none" />
<path d="M480.12 773.48H484.75M484.75 764.78V782.18M492.15 764.78V782.18M492.15 773.48H496.78" stroke="#3b4a9e" stroke-width="2.1" fill="none" />
<path d="M363.46 773.48L396.46 756.48M373.46 758.88L384.86 762.18M384.86 762.18Q391.66 769.48 391.26 777.98L389.26 782.78M384.36 776.08L389.26 782.78L393.06 777.78" stroke="#3b4a9e" stroke-width="1.9" fill="none" />
<path d="M613.44 773.48L613.74 771.28A6.7 5.8 0 0 1 627.14 771.08L630.11 773.48M630.11 773.48L630.4 771.28A6.7 5.8 0 0 1 643.81 771.08L646.77 773.48M646.77 773.48L647.07 771.28A6.7 5.8 0 0 1 660.47 771.08L663.43 773.48M663.43 773.48L663.73 771.28A6.7 5.8 0 0 1 677.13 771.08L680.1 773.48" stroke="#3b4a9e" stroke-width="1.7" fill="none" />
<path d="M746.76 773.48L749.59 766.48L755.09 780.48L760.59 766.48L766.26 780.48L771.76 766.48L777.26 780.48L780.09 773.48" stroke="#3b4a9e" stroke-width="1.9" fill="none" stroke-linejoin="round"/>
<path d="M846.75 773.48L847.05 771.28A6.7 5.8 0 0 1 860.45 771.08L863.41 773.48M863.41 773.48L863.71 771.28A6.7 5.8 0 0 1 877.12 771.08L880.08 773.48M880.08 773.48L880.38 771.28A6.7 5.8 0 0 1 893.78 771.08L896.75 773.48M896.75 773.48L897.04 771.28A6.7 5.8 0 0 1 910.45 771.08L913.41 773.48" stroke="#3b4a9e" stroke-width="1.7" fill="none" />
<path d="M1213.38 773.48L1213.68 771.28A6.7 5.8 0 0 1 1227.08 771.08L1230.04 773.48M1230.04 773.48L1230.34 771.28A6.7 5.8 0 0 1 1243.74 771.08L1246.71 773.48M1246.71 773.48L1247.01 771.28A6.7 5.8 0 0 1 1260.41 771.08L1263.38 773.48M1263.38 773.48L1263.67 771.28A6.7 5.8 0 0 1 1277.08 771.08L1280.04 773.48" stroke="#3b4a9e" stroke-width="1.7" fill="none" />
<path d="M313.47 823.48L320.67 826.32L307.17 831.82L320.67 837.32L307.17 842.98L320.67 848.48L307.17 853.98L313.47 856.82" stroke="#3b4a9e" stroke-width="1.9" fill="none" stroke-linejoin="round"/>
<path d="M946.74 823.48L953.94 826.32L940.44 831.82L953.94 837.32L940.44 842.98L953.94 848.48L940.44 853.98L946.74 856.82" stroke="#3b4a9e" stroke-width="1.9" fill="none" stroke-linejoin="round"/>
<ellipse cx="1012.8" cy="773.48" rx="16.5" ry="17.3" stroke="#3b4a9e" stroke-width="1.9" fill="none"/>
<path d="M996.4 773.48L1013.7 773.48M1010 755.58L1064 755.58M1013.7 791.28L1063 791.28M1064.2 755.38L1063.57 756.88L1062.98 758.37L1062.46 759.87L1062.03 761.37L1061.73 762.86L1061.55 764.36L1061.51 765.85L1061.6 767.35L1061.81 768.84L1062.12 770.34L1062.49 771.84L1062.9 773.33L1063.31 774.83L1063.68 776.32L1063.99 777.82L1064.2 779.32L1064.29 780.81L1064.25 782.31L1064.07 783.8L1063.77 785.3L1063.34 786.79L1062.82 788.29L1062.23 789.79L1061.6 791.28M1064.2 755.38L1069 748.28M1061.9 790.88L1059 794.98M1081.3 755.38L1080.67 756.88L1080.08 758.37L1079.56 759.87L1079.13 761.37L1078.83 762.86L1078.65 764.36L1078.61 765.85L1078.7 767.35L1078.91 768.84L1079.22 770.34L1079.59 771.84L1080 773.33L1080.41 774.83L1080.78 776.32L1081.09 777.82L1081.3 779.32L1081.39 780.81L1081.35 782.31L1081.17 783.8L1080.87 785.3L1080.44 786.79L1079.92 788.29L1079.33 789.79L1078.7 791.28M1081.3 753.98L1085 749.48M1078.7 790.88L1074.3 796.08M1080.7 755.58L1113.9 755.58A16.2 17.85 0 0 1 1113.4 791.28M1078.9 791.28L1113.4 791.28M1013.7 791.28L1013.7 806.81L996.73 806.81M1113.4 791.28L1113.4 806.81L1130.07 806.81" stroke="#3b4a9e" stroke-width="1.9" fill="none" />
<path d="M146.28 923.49H180.68M151.28 929.49H175.68M156.88 933.99H170.08M161.68 939.49H165.28" stroke="#d8303c" stroke-width="2.2" fill="none" />
<circle cx="313.47" cy="773.48" r="4" fill="#a040a8"/>
<circle cx="313.47" cy="906.82" r="4" fill="#a040a8"/>
<circle cx="196.81" cy="906.82" r="4" fill="#a040a8"/>
<circle cx="946.74" cy="773.48" r="4" fill="#a040a8"/>
<circle cx="946.74" cy="906.82" r="4" fill="#a040a8"/>
<circle cx="980.07" cy="906.82" r="4" fill="#a040a8"/>
<text x="245.4" y="746" fill="#3a3d8c" font-family="'Liberation Sans', sans-serif" font-size="15" stroke="#3a3d8c" stroke-width="0.25">C41</text>
<text x="346.7" y="746.5" fill="#222" font-family="'Liberation Sans', sans-serif" font-size="15" text-anchor="middle" stroke="#222" stroke-width="0.25">0</text>
<text x="346.8" y="768.3" fill="#222" font-family="'Liberation Sans', sans-serif" font-size="15" text-anchor="middle" stroke="#222" stroke-width="0.25">1</text>
<text x="412" y="768.3" fill="#222" font-family="'Liberation Sans', sans-serif" font-size="15" text-anchor="middle" stroke="#222" stroke-width="0.25">2</text>
<text x="345.7" y="787.6" fill="#3a3d8c" font-family="'Liberation Sans', sans-serif" font-size="15" stroke="#3a3d8c" stroke-width="0.25">U4</text>
<text x="329.1" y="804.6" fill="#222" font-family="'Liberation Sans', sans-serif" font-size="15" stroke="#222" stroke-width="0.25">RCLOSED = 0.02</text>
<text x="478.2" y="746" fill="#3a3d8c" font-family="'Liberation Sans', sans-serif" font-size="15" stroke="#3a3d8c" stroke-width="0.25">C42</text>
<text x="246.2" y="813.8" fill="#3a3d8c" font-family="'Liberation Sans', sans-serif" font-size="15" stroke="#3a3d8c" stroke-width="0.25">{C0}</text>
<text x="245.8" y="833.2" fill="#222" font-family="'Liberation Sans', sans-serif" font-size="15" stroke="#222" stroke-width="0.25">IC = {U0}</text>
<text x="339.7" y="837.8" fill="#3a3d8c" font-family="'Liberation Sans', sans-serif" font-size="15" stroke="#3a3d8c" stroke-width="0.25">R42</text>
<text x="340.3" y="857.8" fill="#3a3d8c" font-family="'Liberation Sans', sans-serif" font-size="15" stroke="#3a3d8c" stroke-width="0.25">1meg</text>
<text x="479.4" y="813.8" fill="#3a3d8c" font-family="'Liberation Sans', sans-serif" font-size="15" stroke="#3a3d8c" stroke-width="0.25">{C0}</text>
<text x="479" y="833.2" fill="#222" font-family="'Liberation Sans', sans-serif" font-size="15" stroke="#222" stroke-width="0.25">IC = {U0}</text>
<text x="597" y="768.5" fill="#222" font-family="'Liberation Sans', sans-serif" font-size="15" text-anchor="middle" stroke="#222" stroke-width="0.25">1</text>
<text x="694.7" y="768.5" fill="#222" font-family="'Liberation Sans', sans-serif" font-size="15" text-anchor="middle" stroke="#222" stroke-width="0.25">2</text>
<text x="620.7" y="754.2" fill="#3a3d8c" font-family="'Liberation Sans', sans-serif" font-size="15" stroke="#3a3d8c" stroke-width="0.25">L41</text>
<text x="621.3" y="795.6" fill="#3a3d8c" font-family="'Liberation Sans', sans-serif" font-size="15" stroke="#3a3d8c" stroke-width="0.25">{L1}</text>
<text x="754.6" y="754.2" fill="#3a3d8c" font-family="'Liberation Sans', sans-serif" font-size="15" stroke="#3a3d8c" stroke-width="0.25">R41</text>
<text x="755.1" y="795.6" fill="#3a3d8c" font-family="'Liberation Sans', sans-serif" font-size="15" stroke="#3a3d8c" stroke-width="0.25">{R1}</text>
<text x="830.6" y="768.5" fill="#222" font-family="'Liberation Sans', sans-serif" font-size="15" text-anchor="middle" stroke="#222" stroke-width="0.25">1</text>
<text x="928.7" y="768.5" fill="#222" font-family="'Liberation Sans', sans-serif" font-size="15" text-anchor="middle" stroke="#222" stroke-width="0.25">2</text>
<text x="854" y="754.2" fill="#3a3d8c" font-family="'Liberation Sans', sans-serif" font-size="15" stroke="#3a3d8c" stroke-width="0.25">L42</text>
<text x="854" y="796" fill="#3a3d8c" font-family="'Liberation Sans', sans-serif" font-size="15" stroke="#3a3d8c" stroke-width="0.25">40n</text>
<text x="913" y="820.2" fill="#3a3d8c" font-family="'Liberation Sans', sans-serif" font-size="15" stroke="#3a3d8c" stroke-width="0.25">R43</text>
<text x="914" y="838.6" fill="#3a3d8c" font-family="'Liberation Sans', sans-serif" font-size="15" stroke="#3a3d8c" stroke-width="0.25">100</text>
<text x="1012.7" y="754" fill="#3a3d8c" font-family="'Liberation Sans', sans-serif" font-size="15" stroke="#3a3d8c" stroke-width="0.25">T4</text>
<text x="996.5" y="844.2" fill="#222" font-family="'Liberation Sans', sans-serif" font-size="15" stroke="#222" stroke-width="0.25">TD = 25n</text>
<text x="995" y="868.2" fill="#222" font-family="'Liberation Sans', sans-serif" font-size="15" stroke="#222" stroke-width="0.25">Z0 = 10</text>
<text x="1197.5" y="768.5" fill="#222" font-family="'Liberation Sans', sans-serif" font-size="15" text-anchor="middle" stroke="#222" stroke-width="0.25">1</text>
<text x="1295" y="768.5" fill="#222" font-family="'Liberation Sans', sans-serif" font-size="15" text-anchor="middle" stroke="#222" stroke-width="0.25">2</text>
<text x="1220" y="754.3" fill="#3a3d8c" font-family="'Liberation Sans', sans-serif" font-size="15" stroke="#3a3d8c" stroke-width="0.25">L43</text>
<text x="1220" y="796" fill="#3a3d8c" font-family="'Liberation Sans', sans-serif" font-size="15" stroke="#3a3d8c" stroke-width="0.25">40n</text>
<text x="173.4" y="947.6" fill="#222" font-family="'Liberation Sans', sans-serif" font-size="15" stroke="#222" stroke-width="0.25">0</text>
<path d="M1363.37 123.47L1363.37 773.48M1363.37 123.47L1480.02 123.47M1580.01 123.47L1596.67 123.47M1446.69 40.13L1480.02 40.13M1530.01 40.13L1596.67 40.13M1446.69 40.13L1446.69 123.47M1596.67 40.13L1596.67 190.14" stroke="#7e3070" stroke-width="1.8" fill="none" stroke-linecap="square"/>
<path d="M1480.02 123.47L1496.68 123.47M1563.35 123.47L1580.01 123.47M1480.02 40.13L1496.68 40.13M1513.35 40.13L1530.01 40.13" stroke="#c8384a" stroke-width="1.9" fill="none"/>
<path d="M1496.68 123.47L1496.98 121.27A6.7 5.8 0 0 1 1510.38 121.07L1513.35 123.47M1513.35 123.47L1513.65 121.27A6.7 5.8 0 0 1 1527.05 121.07L1530.01 123.47M1530.01 123.47L1530.31 121.27A6.7 5.8 0 0 1 1543.71 121.07L1546.68 123.47M1546.68 123.47L1546.98 121.27A6.7 5.8 0 0 1 1560.38 121.07L1563.35 123.47" stroke="#3b4a9e" stroke-width="1.7" fill="none" />
<path d="M1496.68 40.13H1501.32M1501.32 31.43V48.83M1508.72 31.43V48.83M1508.72 40.13H1513.35" stroke="#3b4a9e" stroke-width="2.1" fill="none" />
<path d="M1579.47 190.14H1613.88M1584.17 195.44H1609.17M1590.17 200.34H1603.17M1594.47 205.74H1598.88" stroke="#d8303c" stroke-width="2.2" fill="none" />
<circle cx="1363.37" cy="123.47" r="4" fill="#a040a8"/>
<circle cx="1446.69" cy="123.47" r="4" fill="#a040a8"/>
<circle cx="1596.67" cy="123.47" r="4" fill="#a040a8"/>
<text x="1480" y="118.5" fill="#222" font-family="'Liberation Sans', sans-serif" font-size="15" text-anchor="middle" stroke="#222" stroke-width="0.25">1</text>
<text x="1577.5" y="118.5" fill="#222" font-family="'Liberation Sans', sans-serif" font-size="15" text-anchor="middle" stroke="#222" stroke-width="0.25">2</text>
<text x="1504" y="104.3" fill="#3a3d8c" font-family="'Liberation Sans', sans-serif" font-size="15" stroke="#3a3d8c" stroke-width="0.25">LI</text>
<text x="1504" y="146" fill="#3a3d8c" font-family="'Liberation Sans', sans-serif" font-size="15" stroke="#3a3d8c" stroke-width="0.25">81n</text>
<text x="1504" y="20.6" fill="#3a3d8c" font-family="'Liberation Sans', sans-serif" font-size="15" stroke="#3a3d8c" stroke-width="0.25">CI</text>
<text x="1505" y="61.6" fill="#3a3d8c" font-family="'Liberation Sans', sans-serif" font-size="15" stroke="#3a3d8c" stroke-width="0.25">137p</text>
<text x="1605" y="214.6" fill="#222" font-family="'Liberation Sans', sans-serif" font-size="15" stroke="#222" stroke-width="0.25">0</text>
<text x="29.4" y="35.6" fill="#3a3d8c" font-family="'Liberation Sans', sans-serif" font-size="17.5" stroke="#3a3d8c" stroke-width="0.45" textLength="104" lengthAdjust="spacingAndGlyphs">PARAMETERS:</text>
<line x1="29.7" y1="40.4" x2="164.2" y2="40.4" stroke="#3b4a9e" stroke-width="2.3"/>
<text x="29.4" y="54" fill="#222" font-family="'Liberation Sans', sans-serif" font-size="15" stroke="#222" stroke-width="0.25">U0 = 17.5k</text>
<text x="29" y="71" fill="#222" font-family="'Liberation Sans', sans-serif" font-size="15" stroke="#222" stroke-width="0.25">C0 = 67.5u</text>
<text x="29.4" y="87.2" fill="#222" font-family="'Liberation Sans', sans-serif" font-size="15" stroke="#222" stroke-width="0.25">R1 = 1.3</text>
<text x="29.4" y="103.8" fill="#222" font-family="'Liberation Sans', sans-serif" font-size="15" stroke="#222" stroke-width="0.25">L1 = 500n</text>
<text x="813.2" y="1026.6" fill="#231f20" font-family="'Liberation Serif', serif" font-size="55.7" text-anchor="middle" >(a) simulation circuit diagram</text>
<path d="M2086.5 1.4H3171.5V838.5H2086.5ZM2086.5 755h22M2086.5 587.6h22M2086.5 420.2h22M2086.5 252.8h22M2086.5 85.4h22M2086.5 671.3h11M2086.5 503.9h11M2086.5 336.5h11M2086.5 169.1h11M3171.5 768.6h-22M3171.5 629.15h-22M3171.5 489.7h-22M3171.5 350.25h-22M3171.5 210.8h-22M3171.5 71.35h-22M3171.5 698.88h-11M3171.5 559.43h-11M3171.5 419.98h-11M3171.5 280.53h-11M3171.5 141.08h-11M2194.7 838.5v-22M2411.7 838.5v-22M2628.7 838.5v-22M2845.7 838.5v-22M3062.7 838.5v-22M2303.2 838.5v-11M2520.2 838.5v-11M2737.2 838.5v-11M2954.2 838.5v-11" stroke="#000" stroke-width="3" fill="none" stroke-linecap="butt" stroke-linejoin="miter"/>
<text x="2066" y="773.8" fill="#231f20" font-family="'Liberation Serif', serif" font-size="56" text-anchor="end" >0</text>
<text x="2066" y="606.4" fill="#231f20" font-family="'Liberation Serif', serif" font-size="56" text-anchor="end" >25</text>
<text x="2066" y="439" fill="#231f20" font-family="'Liberation Serif', serif" font-size="56" text-anchor="end" >50</text>
<text x="2066" y="271.6" fill="#231f20" font-family="'Liberation Serif', serif" font-size="56" text-anchor="end" >75</text>
<text x="2066" y="104.2" fill="#231f20" font-family="'Liberation Serif', serif" font-size="56" text-anchor="end" >100</text>
<text x="3193" y="787.4" fill="#231f20" font-family="'Liberation Serif', serif" font-size="56" >0</text>
<text x="3193" y="647.95" fill="#231f20" font-family="'Liberation Serif', serif" font-size="56" >0.5</text>
<text x="3193" y="508.5" fill="#231f20" font-family="'Liberation Serif', serif" font-size="56" >1.0</text>
<text x="3193" y="369.05" fill="#231f20" font-family="'Liberation Serif', serif" font-size="56" >1.5</text>
<text x="3193" y="229.6" fill="#231f20" font-family="'Liberation Serif', serif" font-size="56" >2.0</text>
<text x="3193" y="90.15" fill="#231f20" font-family="'Liberation Serif', serif" font-size="56" >2.5</text>
<text x="2193" y="897.8" fill="#231f20" font-family="'Liberation Serif', serif" font-size="56" text-anchor="middle" >0</text>
<text x="2410" y="897.8" fill="#231f20" font-family="'Liberation Serif', serif" font-size="56" text-anchor="middle" >50</text>
<text x="2627" y="897.8" fill="#231f20" font-family="'Liberation Serif', serif" font-size="56" text-anchor="middle" >100</text>
<text x="2844" y="897.8" fill="#231f20" font-family="'Liberation Serif', serif" font-size="56" text-anchor="middle" >150</text>
<text x="3061" y="897.8" fill="#231f20" font-family="'Liberation Serif', serif" font-size="56" text-anchor="middle" >200</text>
<text x="2628.5" y="957.2" fill="#231f20" font-family="'Liberation Serif', serif" font-size="56" text-anchor="middle" >time/μs</text>
<text x="2627.8" y="1027.8" fill="#231f20" font-family="'Liberation Serif', serif" font-size="56" text-anchor="middle" >(b) simulation results</text>
<text transform="translate(1964.5 419.5) rotate(-90)" x="0" y="0" fill="#231f20" font-family="'Liberation Serif', serif" font-size="56" text-anchor="middle">current/kA</text>
<text transform="translate(3322.3 666.5) rotate(-90)" x="0" y="0" fill="#231f20" font-family="'Liberation Serif', serif" font-size="55.5">action integral/10<tspan font-size="32" dx="-2" dy="-18">5</tspan><tspan dy="18"> A</tspan><tspan font-size="32" dy="-18" dx="-0.5">2</tspan><tspan dy="18" dx="1">s</tspan></text>
<g clip-path="url(#plotclip)">
<path d="M2195.3 755L2195.52 755L2195.73 755L2195.95 755L2196.17 755L2196.38 755L2196.6 737.76L2196.82 696.71L2197.04 658.09L2197.25 621.77L2197.47 587.62L2197.69 555.51L2197.9 525.31L2198.12 496.92L2198.34 470.24L2198.55 445.15L2198.77 421.58L2198.99 399.43L2199.21 378.63L2199.42 359.08L2199.64 340.72L2199.86 323.48L2200.07 307.29L2200.29 292.1L2200.51 277.84L2200.72 264.45L2200.94 251.9L2201.16 240.13L2201.38 229.09L2201.59 218.75L2201.81 209.05L2202.03 199.97L2202.24 191.47L2202.46 183.51L2202.68 176.07L2202.89 169.1L2203.11 162.59L2203.33 156.51L2203.55 150.83L2203.76 145.53L2203.98 140.58L2204.2 135.97L2204.41 131.68L2204.63 127.68L2204.85 123.97L2205.06 120.52L2205.28 117.31L2205.5 114.35L2205.72 111.6L2205.93 109.06L2206.15 106.71L2206.37 104.55L2206.58 102.56L2206.8 100.73L2207.02 99.05L2207.23 97.52L2207.45 96.13L2207.67 94.86L2207.89 93.71L2208.1 92.68L2208.32 91.75L2208.54 90.92L2208.75 90.19L2208.97 89.55L2209.19 88.98L2209.4 88.5L2209.62 88.09L2209.84 87.75L2210.06 87.48L2210.27 87.26L2210.49 87.11L2210.71 87.01L2210.92 86.96L2211.14 86.96L2211.36 87L2211.57 87.09L2211.79 87.21L2212.01 87.37L2212.23 87.57L2212.44 87.81L2212.66 88.07L2212.88 88.36L2213.09 88.68L2213.31 89.03L2213.53 89.4L2213.74 89.79L2213.96 90.21L2214.18 90.64L2214.4 91.09L2214.61 91.56L2214.83 92.05L2215.05 92.56L2215.26 93.08L2215.48 93.61L2215.7 94.15L2215.91 94.71L2216.13 95.28L2216.35 95.86L2216.57 96.45L2216.78 97.04L2217 97.65L2217.22 98.27L2217.43 98.89L2217.65 99.52L2217.87 100.16L2218.08 100.8L2218.3 101.45L2218.52 102.1L2218.74 102.76L2218.95 103.43L2219.17 104.09L2219.39 104.77L2219.6 105.44L2219.82 106.12L2220.04 106.81L2220.25 107.49L2220.47 108.18L2220.69 108.87L2220.91 109.57L2221.12 110.26L2221.34 110.96L2221.56 111.66L2221.77 112.36L2221.99 113.07L2222.21 113.77L2222.42 114.48L2222.64 115.18L2222.86 115.89L2223.08 116.6L2223.29 117.31L2223.51 118.02L2223.73 118.73L2223.94 119.44L2224.16 120.16L2224.38 120.87L2224.59 121.58L2224.81 122.3L2225.03 123.01L2225.25 123.72L2225.46 124.44L2225.68 125.15L2225.9 125.87L2226.11 126.58L2226.33 127.29L2226.55 128.01L2226.76 128.72L2226.98 129.43L2227.2 130.15L2227.42 130.86L2227.63 131.57L2227.85 132.28L2228.07 132.99L2228.28 133.71L2228.5 134.42L2228.72 135.13L2228.93 135.84L2229.15 136.55L2229.37 137.26L2229.59 137.96L2229.8 138.67L2230.02 139.38L2230.24 140.09L2230.45 140.79L2230.67 141.5L2230.89 142.2L2231.1 142.91L2231.32 143.61L2231.54 144.31L2231.76 145.02L2231.97 145.72L2232.19 146.42L2232.41 147.12L2232.62 147.82L2232.84 148.52L2233.06 149.22L2233.27 149.91L2233.49 150.61L2233.71 151.31L2233.93 152L2234.14 152.7L2234.36 153.39L2234.58 154.09L2234.79 154.78L2235.01 155.47L2235.23 156.16L2235.44 156.85L2235.66 157.54L2235.88 158.23L2236.1 158.92L2236.31 159.61L2236.53 160.3L2236.75 160.98L2236.96 161.67L2237.18 162.35L2237.4 163.03L2237.61 163.72L2237.83 164.4L2238.05 165.08L2238.27 165.76L2238.48 166.44L2238.7 167.12L2238.92 167.8L2240.98 174.22L2243.05 180.57L2245.12 186.86L2247.18 193.07L2249.25 199.21L2251.31 205.28L2253.38 211.29L2255.45 217.22L2257.51 223.09L2259.58 228.89L2261.64 234.63L2263.71 240.3L2265.78 245.9L2267.84 251.44L2269.91 256.92L2271.97 262.33L2274.04 267.69L2276.11 272.98L2278.17 278.21L2280.24 283.38L2282.31 288.49L2284.37 293.54L2286.44 298.54L2288.5 303.48L2290.57 308.36L2292.64 313.19L2294.7 317.97L2296.77 322.69L2298.83 327.36L2300.9 331.97L2302.97 336.54L2305.03 341.05L2307.1 345.52L2309.17 349.93L2311.23 354.3L2313.3 358.62L2315.36 362.89L2317.43 367.11L2319.5 371.29L2321.56 375.42L2323.63 379.51L2325.69 383.55L2327.76 387.55L2329.83 391.5L2331.89 395.42L2333.96 399.29L2336.02 403.11L2338.09 406.9L2340.16 410.65L2342.22 414.35L2344.29 418.02L2346.36 421.64L2348.42 425.23L2350.49 428.78L2352.55 432.29L2354.62 435.76L2356.69 439.19L2358.75 442.59L2360.82 445.95L2362.88 449.28L2364.95 452.56L2367.02 455.82L2369.08 459.04L2371.15 462.22L2373.21 465.37L2375.28 468.48L2377.35 471.57L2379.41 474.62L2381.48 477.63L2383.55 480.61L2385.61 483.57L2387.68 486.49L2389.74 489.37L2391.81 492.23L2393.88 495.06L2395.94 497.85L2398.01 500.62L2400.07 503.36L2402.14 506.06L2404.21 508.74L2406.27 511.39L2408.34 514.01L2410.41 516.6L2412.47 519.17L2414.54 521.7L2416.6 524.21L2418.67 526.7L2420.74 529.15L2422.8 531.58L2424.87 533.98L2426.93 536.36L2429 538.71L2431.07 541.04L2433.13 543.34L2435.2 545.62L2437.26 547.87L2439.33 550.1L2441.4 552.3L2443.46 554.48L2445.53 556.64L2447.6 558.77L2449.66 560.88L2451.73 562.97L2453.79 565.04L2455.86 567.08L2457.93 569.1L2459.99 571.1L2462.06 573.08L2464.12 575.04L2466.19 576.97L2468.26 578.89L2470.32 580.78L2472.39 582.66L2474.45 584.51L2476.52 586.34L2478.59 588.16L2480.65 589.95L2482.72 591.73L2484.79 593.48L2486.85 595.22L2488.92 596.94L2490.98 598.64L2493.05 600.32L2495.12 601.99L2497.18 603.63L2499.25 605.26L2501.31 606.87L2503.38 608.46L2505.45 610.04L2507.51 611.6L2509.58 613.14L2511.65 614.67L2513.71 616.18L2515.78 617.67L2517.84 619.15L2519.91 620.61L2521.98 622.05L2524.04 623.48L2526.11 624.9L2528.17 626.3L2530.24 627.68L2532.31 629.05L2534.37 630.41L2536.44 631.75L2538.5 633.07L2540.57 634.39L2542.64 635.68L2544.7 636.97L2546.77 638.24L2548.84 639.49L2550.9 640.73L2552.97 641.96L2555.03 643.18L2557.1 644.38L2559.17 645.57L2561.23 646.75L2563.3 647.91L2565.36 649.07L2567.43 650.2L2569.5 651.33L2571.56 652.45L2573.63 653.55L2575.7 654.64L2577.76 655.72L2579.83 656.79L2581.89 657.85L2583.96 658.89L2586.03 659.92L2588.09 660.95L2590.16 661.96L2592.22 662.96L2594.29 663.95L2596.36 664.93L2598.42 665.9L2600.49 666.86L2602.55 667.8L2604.62 668.74L2606.69 669.67L2608.75 670.59L2610.82 671.5L2612.89 672.39L2614.95 673.28L2617.02 674.16L2619.08 675.03L2621.15 675.89L2623.22 676.74L2625.28 677.58L2627.35 678.42L2629.41 679.24L2631.48 680.06L2633.55 680.86L2635.61 681.66L2637.68 682.45L2639.74 683.23L2641.81 684L2643.88 684.76L2645.94 685.52L2648.01 686.27L2650.08 687.01L2652.14 687.74L2654.21 688.46L2656.27 689.18L2658.34 689.88L2660.41 690.59L2662.47 691.28L2664.54 691.96L2666.6 692.64L2668.67 693.31L2670.74 693.98L2672.8 694.63L2674.87 695.28L2676.94 695.92L2679 696.56L2681.07 697.19L2683.13 697.81L2685.2 698.43L2687.27 699.03L2689.33 699.64L2691.4 700.23L2693.46 700.82L2695.53 701.4L2697.6 701.98L2699.66 702.55L2701.73 703.11L2703.79 703.67L2705.86 704.22L2707.93 704.77L2709.99 705.31L2712.06 705.85L2714.13 706.37L2716.19 706.9L2718.26 707.41L2720.32 707.93L2722.39 708.43L2724.46 708.93L2726.52 709.43L2728.59 709.92L2730.65 710.4L2732.72 710.88L2734.79 711.36L2736.85 711.83L2738.92 712.29L2740.98 712.75L2743.05 713.21L2745.12 713.66L2747.18 714.1L2749.25 714.54L2751.32 714.98L2753.38 715.41L2755.45 715.83L2757.51 716.25L2759.58 716.67L2761.65 717.08L2763.71 717.49L2765.78 717.89L2767.84 718.29L2769.91 718.69L2771.98 719.08L2774.04 719.46L2776.11 719.85L2778.18 720.23L2780.24 720.6L2782.31 720.97L2784.37 721.34L2786.44 721.7L2788.51 722.06L2790.57 722.41L2792.64 722.76L2794.7 723.11L2796.77 723.45L2798.84 723.79L2800.9 724.13L2802.97 724.46L2805.03 724.79L2807.1 725.11L2809.17 725.43L2811.23 725.75L2813.3 726.07L2815.37 726.38L2817.43 726.68L2819.5 726.99L2821.56 727.29L2823.63 727.59L2825.7 727.88L2827.76 728.17L2829.83 728.46L2831.89 728.75L2833.96 729.03L2836.03 729.31L2838.09 729.59L2840.16 729.86L2842.22 730.13L2844.29 730.4L2846.36 730.66L2848.42 730.92L2850.49 731.18L2852.56 731.44L2854.62 731.69L2856.69 731.94L2858.75 732.19L2860.82 732.44L2862.89 732.68L2864.95 732.92L2867.02 733.16L2869.08 733.39L2871.15 733.62L2873.22 733.85L2875.28 734.08L2877.35 734.31L2879.42 734.53L2881.48 734.75L2883.55 734.97L2885.61 735.18L2887.68 735.4L2889.75 735.61L2891.81 735.82L2893.88 736.02L2895.94 736.23L2898.01 736.43L2900.08 736.63L2902.14 736.83L2904.21 737.02L2906.27 737.21L2908.34 737.41L2910.41 737.6L2912.47 737.78L2914.54 737.97L2916.61 738.15L2918.67 738.33L2920.74 738.51L2922.8 738.69L2924.87 738.86L2926.94 739.04L2929 739.21L2931.07 739.38L2933.13 739.55L2935.2 739.71L2937.27 739.88L2939.33 740.04L2941.4 740.2L2943.46 740.36L2945.53 740.52L2947.6 740.67L2949.66 740.83L2951.73 740.98L2953.8 741.13L2955.86 741.28L2957.93 741.43L2959.99 741.57L2962.06 741.72L2964.13 741.86L2966.19 742L2968.26 742.14L2970.32 742.28L2972.39 742.42L2974.46 742.55L2976.52 742.69L2978.59 742.82L2980.66 742.95L2982.72 743.08L2984.79 743.21L2986.85 743.34L2988.92 743.46L2990.99 743.58L2993.05 743.71L2995.12 743.83L2997.18 743.95L2999.25 744.07L3001.32 744.19L3003.38 744.3L3005.45 744.42L3007.51 744.53L3009.58 744.64L3011.65 744.75L3013.71 744.86L3015.78 744.97L3017.85 745.08L3019.91 745.19L3021.98 745.29L3024.04 745.4L3026.11 745.5L3028.18 745.6L3030.24 745.7L3032.31 745.8L3034.37 745.9L3036.44 746L3038.51 746.1L3040.57 746.19L3042.64 746.29L3044.7 746.38L3046.77 746.48L3048.84 746.57L3050.9 746.66L3052.97 746.75L3055.04 746.84L3057.1 746.92L3059.17 747.01L3061.23 747.1L3063.3 747.18" stroke="#e2262b" stroke-width="4.4" fill="none" stroke-linejoin="round"/>
<rect x="2185.2" y="745.5" width="19" height="19" rx="0.8" stroke="#e2262b" stroke-width="3.7" fill="#fff"/>
<rect x="2228.99" y="157.5" width="19" height="19" rx="0.8" stroke="#e2262b" stroke-width="3.7" fill="#fff"/>
<rect x="2277.75" y="292.71" width="19" height="19" rx="0.8" stroke="#e2262b" stroke-width="3.7" fill="#fff"/>
<rect x="2326.51" y="394.7" width="19" height="19" rx="0.8" stroke="#e2262b" stroke-width="3.7" fill="#fff"/>
<rect x="2375.27" y="473.72" width="19" height="19" rx="0.8" stroke="#e2262b" stroke-width="3.7" fill="#fff"/>
<rect x="2424.03" y="534.94" width="19" height="19" rx="0.8" stroke="#e2262b" stroke-width="3.7" fill="#fff"/>
<rect x="2472.79" y="582.37" width="19" height="19" rx="0.8" stroke="#e2262b" stroke-width="3.7" fill="#fff"/>
<rect x="2521.55" y="619.12" width="19" height="19" rx="0.8" stroke="#e2262b" stroke-width="3.7" fill="#fff"/>
<rect x="2570.31" y="647.59" width="19" height="19" rx="0.8" stroke="#e2262b" stroke-width="3.7" fill="#fff"/>
<rect x="2619.07" y="669.64" width="19" height="19" rx="0.8" stroke="#e2262b" stroke-width="3.7" fill="#fff"/>
<rect x="2667.83" y="686.73" width="19" height="19" rx="0.8" stroke="#e2262b" stroke-width="3.7" fill="#fff"/>
<rect x="2716.59" y="699.97" width="19" height="19" rx="0.8" stroke="#e2262b" stroke-width="3.7" fill="#fff"/>
<rect x="2765.35" y="710.23" width="19" height="19" rx="0.8" stroke="#e2262b" stroke-width="3.7" fill="#fff"/>
<rect x="2814.11" y="718.17" width="19" height="19" rx="0.8" stroke="#e2262b" stroke-width="3.7" fill="#fff"/>
<rect x="2862.87" y="724.33" width="19" height="19" rx="0.8" stroke="#e2262b" stroke-width="3.7" fill="#fff"/>
<rect x="2911.63" y="729.1" width="19" height="19" rx="0.8" stroke="#e2262b" stroke-width="3.7" fill="#fff"/>
<rect x="2960.39" y="732.79" width="19" height="19" rx="0.8" stroke="#e2262b" stroke-width="3.7" fill="#fff"/>
<rect x="3009.15" y="735.65" width="19" height="19" rx="0.8" stroke="#e2262b" stroke-width="3.7" fill="#fff"/>
<rect x="3053.2" y="737.68" width="19" height="19" rx="0.8" stroke="#e2262b" stroke-width="3.7" fill="#fff"/>
<path d="M2194.7 755L2194.92 712.96L2195.13 673.41L2195.35 636.23L2195.57 601.25L2195.78 568.37L2196 537.45L2196.22 508.39L2196.44 481.06L2196.65 455.38L2196.87 431.24L2197.09 408.56L2197.3 387.25L2197.52 367.23L2197.74 348.42L2197.95 330.76L2198.17 314.18L2198.39 298.61L2198.61 283.99L2198.82 270.28L2199.04 257.41L2199.26 245.34L2199.47 234.02L2199.69 223.4L2199.91 213.45L2200.12 204.13L2200.34 195.4L2200.56 187.23L2200.78 179.58L2200.99 172.42L2201.21 165.72L2201.43 159.46L2201.64 153.62L2201.86 148.16L2202.08 143.06L2202.29 138.31L2202.51 133.88L2202.73 129.75L2202.95 125.92L2203.16 122.35L2203.38 119.03L2203.6 115.96L2203.81 113.11L2204.03 110.47L2204.25 108.03L2204.46 105.78L2204.68 103.7L2204.9 101.79L2205.12 100.04L2205.33 98.44L2205.55 96.97L2205.77 95.64L2205.98 94.42L2206.2 93.33L2206.42 92.34L2206.63 91.45L2206.85 90.67L2207.07 89.97L2207.29 89.36L2207.5 88.83L2207.72 88.37L2207.94 87.98L2208.15 87.67L2208.37 87.41L2208.59 87.22L2208.8 87.08L2209.02 86.99L2209.24 86.95L2209.46 86.96L2209.67 87.02L2209.89 87.11L2210.11 87.24L2210.32 87.41L2210.54 87.61L2210.76 87.85L2210.97 88.11L2211.19 88.41L2211.41 88.73L2211.63 89.07L2211.84 89.44L2212.06 89.83L2212.28 90.25L2212.49 90.68L2212.71 91.13L2212.93 91.59L2213.14 92.08L2213.36 92.58L2213.58 93.09L2213.8 93.62L2214.01 94.15L2214.23 94.7L2214.45 95.27L2214.66 95.84L2214.88 96.42L2215.1 97.01L2215.31 97.61L2215.53 98.22L2215.75 98.83L2215.97 99.45L2216.18 100.08L2216.4 100.71L2216.62 101.35L2216.83 102L2217.05 102.65L2217.27 103.3L2217.48 103.96L2217.7 104.62L2217.92 105.29L2218.14 105.96L2218.35 106.63L2218.57 107.31L2218.79 107.99L2219 108.67L2219.22 109.35L2219.44 110.04L2219.65 110.73L2219.87 111.42L2220.09 112.11L2220.31 112.8L2220.52 113.49L2220.74 114.19L2220.96 114.89L2221.17 115.58L2221.39 116.28L2221.61 116.98L2221.82 117.68L2222.04 118.38L2222.26 119.08L2222.48 119.78L2222.69 120.49L2222.91 121.19L2223.13 121.89L2223.34 122.59L2223.56 123.3L2223.78 124L2223.99 124.7L2224.21 125.41L2224.43 126.11L2224.65 126.81L2224.86 127.51L2225.08 128.22L2225.3 128.92L2225.51 129.62L2225.73 130.32L2225.95 131.02L2226.16 131.72L2226.38 132.43L2226.6 133.13L2226.82 133.83L2227.03 134.52L2227.25 135.22L2227.47 135.92L2227.68 136.62L2227.9 137.32L2228.12 138.01L2228.34 138.71L2228.55 139.41L2228.77 140.1L2228.99 140.8L2229.2 141.49L2229.42 142.18L2229.64 142.88L2229.85 143.57L2230.07 144.26L2230.29 144.95L2230.5 145.64L2230.72 146.33L2230.94 147.02L2231.16 147.71L2231.37 148.4L2231.59 149.08L2231.81 149.77L2232.02 150.46L2232.24 151.14L2232.46 151.83L2232.67 152.51L2232.89 153.19L2233.11 153.87L2233.33 154.55L2233.54 155.24L2233.76 155.92L2233.98 156.59L2234.19 157.27L2234.41 157.95L2234.63 158.63L2234.84 159.3L2235.06 159.98L2235.28 160.66L2235.5 161.33L2235.71 162L2235.93 162.68L2236.15 163.35L2236.36 164.02L2236.58 164.69L2236.8 165.36L2237.01 166.03L2237.23 166.7L2237.45 167.36L2237.67 168.03L2237.88 168.7L2238.1 169.36L2238.32 170.03L2240.38 176.32L2242.45 182.54L2244.52 188.7L2246.58 194.79L2248.65 200.81L2250.71 206.78L2252.78 212.67L2254.85 218.51L2256.91 224.28L2258.98 229.99L2261.04 235.63L2263.11 241.22L2265.18 246.75L2267.24 252.21L2269.31 257.62L2271.37 262.97L2273.44 268.26L2275.51 273.5L2277.57 278.68L2279.64 283.8L2281.71 288.87L2283.77 293.89L2285.84 298.85L2287.9 303.75L2289.97 308.61L2292.04 313.41L2294.1 318.16L2296.17 322.86L2298.23 327.5L2300.3 332.1L2302.37 336.65L2304.43 341.15L2306.5 345.6L2308.57 350.01L2310.63 354.36L2312.7 358.67L2314.76 362.94L2316.83 367.15L2318.9 371.33L2320.96 375.45L2323.03 379.54L2325.09 383.57L2327.16 387.57L2329.23 391.52L2331.29 395.43L2333.36 399.3L2335.42 403.13L2337.49 406.91L2339.56 410.65L2341.62 414.36L2343.69 418.02L2345.76 421.65L2347.82 425.23L2349.89 428.78L2351.95 432.29L2354.02 435.76L2356.09 439.19L2358.15 442.59L2360.22 445.95L2362.28 449.28L2364.35 452.56L2366.42 455.82L2368.48 459.04L2370.55 462.22L2372.61 465.37L2374.68 468.48L2376.75 471.57L2378.81 474.62L2380.88 477.63L2382.95 480.61L2385.01 483.57L2387.08 486.49L2389.14 489.37L2391.21 492.23L2393.28 495.06L2395.34 497.85L2397.41 500.62L2399.47 503.36L2401.54 506.06L2403.61 508.74L2405.67 511.39L2407.74 514.01L2409.81 516.6L2411.87 519.17L2413.94 521.7L2416 524.21L2418.07 526.7L2420.14 529.15L2422.2 531.58L2424.27 533.98L2426.33 536.36L2428.4 538.71L2430.47 541.04L2432.53 543.34L2434.6 545.62L2436.66 547.87L2438.73 550.1L2440.8 552.3L2442.86 554.48L2444.93 556.64L2447 558.77L2449.06 560.88L2451.13 562.97L2453.19 565.04L2455.26 567.08L2457.33 569.1L2459.39 571.1L2461.46 573.08L2463.52 575.04L2465.59 576.97L2467.66 578.89L2469.72 580.78L2471.79 582.66L2473.85 584.51L2475.92 586.34L2477.99 588.16L2480.05 589.95L2482.12 591.73L2484.19 593.48L2486.25 595.22L2488.32 596.94L2490.38 598.64L2492.45 600.32L2494.52 601.99L2496.58 603.63L2498.65 605.26L2500.71 606.87L2502.78 608.46L2504.85 610.04L2506.91 611.6L2508.98 613.14L2511.05 614.67L2513.11 616.18L2515.18 617.67L2517.24 619.15L2519.31 620.61L2521.38 622.05L2523.44 623.48L2525.51 624.9L2527.57 626.3L2529.64 627.68L2531.71 629.05L2533.77 630.41L2535.84 631.75L2537.9 633.07L2539.97 634.39L2542.04 635.68L2544.1 636.97L2546.17 638.24L2548.24 639.49L2550.3 640.73L2552.37 641.96L2554.43 643.18L2556.5 644.38L2558.57 645.57L2560.63 646.75L2562.7 647.91L2564.76 649.07L2566.83 650.2L2568.9 651.33L2570.96 652.45L2573.03 653.55L2575.1 654.64L2577.16 655.72L2579.23 656.79L2581.29 657.85L2583.36 658.89L2585.43 659.92L2587.49 660.95L2589.56 661.96L2591.62 662.96L2593.69 663.95L2595.76 664.93L2597.82 665.9L2599.89 666.86L2601.95 667.8L2604.02 668.74L2606.09 669.67L2608.15 670.59L2610.22 671.5L2612.29 672.39L2614.35 673.28L2616.42 674.16L2618.48 675.03L2620.55 675.89L2622.62 676.74L2624.68 677.58L2626.75 678.42L2628.81 679.24L2630.88 680.06L2632.95 680.86L2635.01 681.66L2637.08 682.45L2639.14 683.23L2641.21 684L2643.28 684.76L2645.34 685.52L2647.41 686.27L2649.48 687.01L2651.54 687.74L2653.61 688.46L2655.67 689.18L2657.74 689.88L2659.81 690.59L2661.87 691.28L2663.94 691.96L2666 692.64L2668.07 693.31L2670.14 693.98L2672.2 694.63L2674.27 695.28L2676.34 695.92L2678.4 696.56L2680.47 697.19L2682.53 697.81L2684.6 698.43L2686.67 699.03L2688.73 699.64L2690.8 700.23L2692.86 700.82L2694.93 701.4L2697 701.98L2699.06 702.55L2701.13 703.11L2703.19 703.67L2705.26 704.22L2707.33 704.77L2709.39 705.31L2711.46 705.85L2713.53 706.37L2715.59 706.9L2717.66 707.41L2719.72 707.93L2721.79 708.43L2723.86 708.93L2725.92 709.43L2727.99 709.92L2730.05 710.4L2732.12 710.88L2734.19 711.36L2736.25 711.83L2738.32 712.29L2740.38 712.75L2742.45 713.21L2744.52 713.66L2746.58 714.1L2748.65 714.54L2750.72 714.98L2752.78 715.41L2754.85 715.83L2756.91 716.25L2758.98 716.67L2761.05 717.08L2763.11 717.49L2765.18 717.89L2767.24 718.29L2769.31 718.69L2771.38 719.08L2773.44 719.46L2775.51 719.85L2777.58 720.23L2779.64 720.6L2781.71 720.97L2783.77 721.34L2785.84 721.7L2787.91 722.06L2789.97 722.41L2792.04 722.76L2794.1 723.11L2796.17 723.45L2798.24 723.79L2800.3 724.13L2802.37 724.46L2804.43 724.79L2806.5 725.11L2808.57 725.43L2810.63 725.75L2812.7 726.07L2814.77 726.38L2816.83 726.68L2818.9 726.99L2820.96 727.29L2823.03 727.59L2825.1 727.88L2827.16 728.17L2829.23 728.46L2831.29 728.75L2833.36 729.03L2835.43 729.31L2837.49 729.59L2839.56 729.86L2841.62 730.13L2843.69 730.4L2845.76 730.66L2847.82 730.92L2849.89 731.18L2851.96 731.44L2854.02 731.69L2856.09 731.94L2858.15 732.19L2860.22 732.44L2862.29 732.68L2864.35 732.92L2866.42 733.16L2868.48 733.39L2870.55 733.62L2872.62 733.85L2874.68 734.08L2876.75 734.31L2878.82 734.53L2880.88 734.75L2882.95 734.97L2885.01 735.18L2887.08 735.4L2889.15 735.61L2891.21 735.82L2893.28 736.02L2895.34 736.23L2897.41 736.43L2899.48 736.63L2901.54 736.83L2903.61 737.02L2905.67 737.21L2907.74 737.41L2909.81 737.6L2911.87 737.78L2913.94 737.97L2916.01 738.15L2918.07 738.33L2920.14 738.51L2922.2 738.69L2924.27 738.86L2926.34 739.04L2928.4 739.21L2930.47 739.38L2932.53 739.55L2934.6 739.71L2936.67 739.88L2938.73 740.04L2940.8 740.2L2942.86 740.36L2944.93 740.52L2947 740.67L2949.06 740.83L2951.13 740.98L2953.2 741.13L2955.26 741.28L2957.33 741.43L2959.39 741.57L2961.46 741.72L2963.53 741.86L2965.59 742L2967.66 742.14L2969.72 742.28L2971.79 742.42L2973.86 742.55L2975.92 742.69L2977.99 742.82L2980.06 742.95L2982.12 743.08L2984.19 743.21L2986.25 743.34L2988.32 743.46L2990.39 743.58L2992.45 743.71L2994.52 743.83L2996.58 743.95L2998.65 744.07L3000.72 744.19L3002.78 744.3L3004.85 744.42L3006.91 744.53L3008.98 744.64L3011.05 744.75L3013.11 744.86L3015.18 744.97L3017.25 745.08L3019.31 745.19L3021.38 745.29L3023.44 745.4L3025.51 745.5L3027.58 745.6L3029.64 745.7L3031.71 745.8L3033.77 745.9L3035.84 746L3037.91 746.1L3039.97 746.19L3042.04 746.29L3044.1 746.38L3046.17 746.48L3048.24 746.57L3050.3 746.66L3052.37 746.75L3054.44 746.84L3056.5 746.92L3058.57 747.01L3060.63 747.1L3062.7 747.18" stroke="#3050a8" stroke-width="5" fill="none" stroke-linejoin="round"/>
<circle cx="2194.7" cy="755" r="10.8" stroke="#3050a8" stroke-width="3.9" fill="#fff"/>
<circle cx="2244" cy="189.2" r="10.8" stroke="#3050a8" stroke-width="3.9" fill="#fff"/>
<circle cx="2298.24" cy="327.51" r="10.8" stroke="#3050a8" stroke-width="3.9" fill="#fff"/>
<circle cx="2352.47" cy="433.16" r="10.8" stroke="#3050a8" stroke-width="3.9" fill="#fff"/>
<circle cx="2406.7" cy="512.7" r="10.8" stroke="#3050a8" stroke-width="3.9" fill="#fff"/>
<circle cx="2460.93" cy="572.58" r="10.8" stroke="#3050a8" stroke-width="3.9" fill="#fff"/>
<circle cx="2515.17" cy="617.66" r="10.8" stroke="#3050a8" stroke-width="3.9" fill="#fff"/>
<circle cx="2569.4" cy="651.6" r="10.8" stroke="#3050a8" stroke-width="3.9" fill="#fff"/>
<circle cx="2623.63" cy="677.16" r="10.8" stroke="#3050a8" stroke-width="3.9" fill="#fff"/>
<circle cx="2677.86" cy="696.39" r="10.8" stroke="#3050a8" stroke-width="3.9" fill="#fff"/>
<circle cx="2732.1" cy="710.88" r="10.8" stroke="#3050a8" stroke-width="3.9" fill="#fff"/>
<circle cx="2786.33" cy="721.78" r="10.8" stroke="#3050a8" stroke-width="3.9" fill="#fff"/>
<circle cx="2840.56" cy="729.99" r="10.8" stroke="#3050a8" stroke-width="3.9" fill="#fff"/>
<circle cx="2894.79" cy="736.17" r="10.8" stroke="#3050a8" stroke-width="3.9" fill="#fff"/>
<circle cx="2949.03" cy="740.83" r="10.8" stroke="#3050a8" stroke-width="3.9" fill="#fff"/>
<circle cx="3003.26" cy="744.33" r="10.8" stroke="#3050a8" stroke-width="3.9" fill="#fff"/>
<circle cx="3057.49" cy="746.97" r="10.8" stroke="#3050a8" stroke-width="3.9" fill="#fff"/>
<circle cx="3062.7" cy="747.18" r="10.8" stroke="#3050a8" stroke-width="3.9" fill="#fff"/>
<path d="M2194.7 768.6L2194.92 768.6L2195.13 768.59L2195.35 768.55L2195.57 768.5L2195.78 768.41L2196 768.28L2196.22 768.11L2196.44 767.9L2196.65 767.64L2196.87 767.34L2197.09 766.99L2197.3 766.59L2197.52 766.15L2197.74 765.66L2197.95 765.12L2198.17 764.54L2198.39 763.91L2198.61 763.24L2198.82 762.53L2199.04 761.78L2199.26 760.99L2199.47 760.17L2199.69 759.31L2199.91 758.41L2200.12 757.48L2200.34 756.52L2200.56 755.53L2200.78 754.52L2200.99 753.48L2201.21 752.41L2201.43 751.32L2201.64 750.2L2201.86 749.07L2202.08 747.91L2202.29 746.74L2202.51 745.55L2202.73 744.34L2202.95 743.11L2203.16 741.88L2203.38 740.63L2203.6 739.36L2203.81 738.09L2204.03 736.8L2204.25 735.5L2204.46 734.2L2204.68 732.88L2204.9 731.56L2205.12 730.23L2205.33 728.89L2205.55 727.54L2205.77 726.2L2205.98 724.84L2206.2 723.48L2206.42 722.12L2206.63 720.75L2206.85 719.38L2207.07 718L2207.29 716.63L2207.5 715.25L2207.72 713.87L2207.94 712.48L2208.15 711.1L2208.37 709.71L2208.59 708.33L2208.8 706.94L2209.02 705.55L2209.24 704.16L2209.46 702.78L2209.67 701.39L2209.89 700L2210.11 698.61L2210.32 697.23L2210.54 695.84L2210.76 694.46L2210.97 693.07L2211.19 691.69L2211.41 690.31L2211.63 688.93L2211.84 687.55L2212.06 686.17L2212.28 684.8L2212.49 683.43L2212.71 682.05L2212.93 680.68L2213.14 679.32L2213.36 677.95L2213.58 676.59L2213.8 675.22L2214.01 673.87L2214.23 672.51L2214.45 671.15L2214.66 669.8L2214.88 668.45L2215.1 667.1L2215.31 665.76L2215.53 664.41L2215.75 663.07L2215.97 661.74L2216.18 660.4L2216.4 659.07L2216.62 657.74L2216.83 656.41L2217.05 655.09L2217.27 653.76L2217.48 652.44L2217.7 651.13L2217.92 649.81L2218.14 648.5L2218.35 647.19L2218.57 645.89L2218.79 644.58L2219 643.28L2219.22 641.98L2219.44 640.69L2219.65 639.4L2219.87 638.11L2220.09 636.82L2220.31 635.54L2220.52 634.26L2220.74 632.98L2220.96 631.7L2221.17 630.43L2221.39 629.16L2221.61 627.89L2221.82 626.63L2222.04 625.36L2222.26 624.1L2222.48 622.85L2222.69 621.59L2222.91 620.34L2223.13 619.1L2223.34 617.85L2223.56 616.61L2223.78 615.37L2223.99 614.13L2224.21 612.9L2224.43 611.67L2224.65 610.44L2224.86 609.21L2225.08 607.99L2225.3 606.77L2225.51 605.55L2225.73 604.33L2225.95 603.12L2226.16 601.91L2226.38 600.71L2226.6 599.5L2226.82 598.3L2227.03 597.1L2227.25 595.91L2227.47 594.71L2227.68 593.52L2227.9 592.33L2228.12 591.15L2228.34 589.97L2228.55 588.79L2228.77 587.61L2228.99 586.43L2229.2 585.26L2229.42 584.09L2229.64 582.93L2229.85 581.76L2230.07 580.6L2230.29 579.44L2230.5 578.28L2230.72 577.13L2230.94 575.98L2231.16 574.83L2231.37 573.69L2231.59 572.54L2231.81 571.4L2232.02 570.26L2232.24 569.13L2232.46 568L2232.67 566.87L2232.89 565.74L2233.11 564.61L2233.33 563.49L2233.54 562.37L2233.76 561.25L2233.98 560.14L2234.19 559.03L2234.41 557.92L2234.63 556.81L2234.84 555.7L2235.06 554.6L2235.28 553.5L2235.5 552.4L2235.71 551.31L2235.93 550.22L2236.15 549.13L2236.36 548.04L2236.58 546.95L2236.8 545.87L2237.01 544.79L2237.23 543.71L2237.45 542.64L2237.67 541.57L2237.88 540.49L2238.1 539.43L2238.32 538.36L2240.38 528.34L2242.45 518.53L2244.52 508.93L2246.58 499.53L2248.65 490.34L2250.71 481.34L2252.78 472.54L2254.85 463.92L2256.91 455.49L2258.98 447.24L2261.04 439.16L2263.11 431.26L2265.18 423.53L2267.24 415.96L2269.31 408.55L2271.37 401.31L2273.44 394.21L2275.51 387.27L2277.57 380.48L2279.64 373.83L2281.71 367.33L2283.77 360.97L2285.84 354.74L2287.9 348.64L2289.97 342.68L2292.04 336.84L2294.1 331.13L2296.17 325.53L2298.23 320.06L2300.3 314.71L2302.37 309.47L2304.43 304.34L2306.5 299.33L2308.57 294.42L2310.63 289.61L2312.7 284.91L2314.76 280.31L2316.83 275.8L2318.9 271.4L2320.96 267.09L2323.03 262.87L2325.09 258.74L2327.16 254.69L2329.23 250.74L2331.29 246.87L2333.36 243.08L2335.42 239.37L2337.49 235.75L2339.56 232.2L2341.62 228.72L2343.69 225.32L2345.76 222L2347.82 218.74L2349.89 215.56L2351.95 212.44L2354.02 209.39L2356.09 206.4L2358.15 203.48L2360.22 200.62L2362.28 197.82L2364.35 195.09L2366.42 192.41L2368.48 189.78L2370.55 187.22L2372.61 184.71L2374.68 182.25L2376.75 179.84L2378.81 177.49L2380.88 175.19L2382.95 172.93L2385.01 170.73L2387.08 168.57L2389.14 166.46L2391.21 164.39L2393.28 162.37L2395.34 160.39L2397.41 158.45L2399.47 156.56L2401.54 154.7L2403.61 152.89L2405.67 151.11L2407.74 149.37L2409.81 147.67L2411.87 146L2413.94 144.38L2416 142.78L2418.07 141.22L2420.14 139.69L2422.2 138.2L2424.27 136.74L2426.33 135.31L2428.4 133.91L2430.47 132.54L2432.53 131.19L2434.6 129.88L2436.66 128.6L2438.73 127.34L2440.8 126.11L2442.86 124.91L2444.93 123.73L2447 122.58L2449.06 121.45L2451.13 120.34L2453.19 119.26L2455.26 118.21L2457.33 117.17L2459.39 116.16L2461.46 115.17L2463.52 114.2L2465.59 113.25L2467.66 112.32L2469.72 111.41L2471.79 110.52L2473.85 109.65L2475.92 108.8L2477.99 107.97L2480.05 107.15L2482.12 106.36L2484.19 105.58L2486.25 104.81L2488.32 104.06L2490.38 103.33L2492.45 102.62L2494.52 101.91L2496.58 101.23L2498.65 100.56L2500.71 99.9L2502.78 99.26L2504.85 98.63L2506.91 98.01L2508.98 97.41L2511.05 96.82L2513.11 96.24L2515.18 95.68L2517.24 95.13L2519.31 94.59L2521.38 94.06L2523.44 93.54L2525.51 93.03L2527.57 92.54L2529.64 92.05L2531.71 91.58L2533.77 91.11L2535.84 90.66L2537.9 90.21L2539.97 89.78L2542.04 89.35L2544.1 88.93L2546.17 88.53L2548.24 88.13L2550.3 87.74L2552.37 87.35L2554.43 86.98L2556.5 86.61L2558.57 86.25L2560.63 85.9L2562.7 85.56L2564.76 85.22L2566.83 84.89L2568.9 84.57L2570.96 84.26L2573.03 83.95L2575.1 83.65L2577.16 83.35L2579.23 83.06L2581.29 82.78L2583.36 82.51L2585.43 82.24L2587.49 81.97L2589.56 81.71L2591.62 81.46L2593.69 81.21L2595.76 80.97L2597.82 80.73L2599.89 80.5L2601.95 80.27L2604.02 80.05L2606.09 79.83L2608.15 79.61L2610.22 79.41L2612.29 79.2L2614.35 79L2616.42 78.81L2618.48 78.61L2620.55 78.43L2622.62 78.24L2624.68 78.06L2626.75 77.89L2628.81 77.72L2630.88 77.55L2632.95 77.38L2635.01 77.22L2637.08 77.07L2639.14 76.91L2641.21 76.76L2643.28 76.61L2645.34 76.47L2647.41 76.33L2649.48 76.19L2651.54 76.05L2653.61 75.92L2655.67 75.79L2657.74 75.66L2659.81 75.54L2661.87 75.42L2663.94 75.3L2666 75.18L2668.07 75.07L2670.14 74.96L2672.2 74.85L2674.27 74.74L2676.34 74.64L2678.4 74.54L2680.47 74.44L2682.53 74.34L2684.6 74.24L2686.67 74.15L2688.73 74.06L2690.8 73.97L2692.86 73.88L2694.93 73.79L2697 73.71L2699.06 73.63L2701.13 73.55L2703.19 73.47L2705.26 73.39L2707.33 73.31L2709.39 73.24L2711.46 73.17L2713.53 73.1L2715.59 73.03L2717.66 72.96L2719.72 72.89L2721.79 72.83L2723.86 72.76L2725.92 72.7L2727.99 72.64L2730.05 72.58L2732.12 72.52L2734.19 72.47L2736.25 72.41L2738.32 72.36L2740.38 72.3L2742.45 72.25L2744.52 72.2L2746.58 72.15L2748.65 72.1L2750.72 72.05L2752.78 72.01L2754.85 71.96L2756.91 71.91L2758.98 71.87L2761.05 71.83L2763.11 71.79L2765.18 71.74L2767.24 71.7L2769.31 71.66L2771.38 71.63L2773.44 71.59L2775.51 71.55L2777.58 71.52L2779.64 71.48L2781.71 71.45L2783.77 71.41L2785.84 71.38L2787.91 71.35L2789.97 71.31L2792.04 71.28L2794.1 71.25L2796.17 71.22L2798.24 71.19L2800.3 71.16L2802.37 71.14L2804.43 71.11L2806.5 71.08L2808.57 71.06L2810.63 71.03L2812.7 71.01L2814.77 70.98L2816.83 70.96L2818.9 70.93L2820.96 70.91L2823.03 70.89L2825.1 70.87L2827.16 70.84L2829.23 70.82L2831.29 70.8L2833.36 70.78L2835.43 70.76L2837.49 70.74L2839.56 70.72L2841.62 70.71L2843.69 70.69L2845.76 70.67L2847.82 70.65L2849.89 70.64L2851.96 70.62L2854.02 70.6L2856.09 70.59L2858.15 70.57L2860.22 70.56L2862.29 70.54L2864.35 70.53L2866.42 70.51L2868.48 70.5L2870.55 70.49L2872.62 70.47L2874.68 70.46L2876.75 70.45L2878.82 70.43L2880.88 70.42L2882.95 70.41L2885.01 70.4L2887.08 70.39L2889.15 70.37L2891.21 70.36L2893.28 70.35L2895.34 70.34L2897.41 70.33L2899.48 70.32L2901.54 70.31L2903.61 70.3L2905.67 70.29L2907.74 70.28L2909.81 70.27L2911.87 70.27L2913.94 70.26L2916.01 70.25L2918.07 70.24L2920.14 70.23L2922.2 70.22L2924.27 70.22L2926.34 70.21L2928.4 70.2L2930.47 70.19L2932.53 70.19L2934.6 70.18L2936.67 70.17L2938.73 70.17L2940.8 70.16L2942.86 70.15L2944.93 70.15L2947 70.14L2949.06 70.13L2951.13 70.13L2953.2 70.12L2955.26 70.12L2957.33 70.11L2959.39 70.11L2961.46 70.1L2963.53 70.1L2965.59 70.09L2967.66 70.09L2969.72 70.08L2971.79 70.08L2973.86 70.07L2975.92 70.07L2977.99 70.06L2980.06 70.06L2982.12 70.05L2984.19 70.05L2986.25 70.05L2988.32 70.04L2990.39 70.04L2992.45 70.03L2994.52 70.03L2996.58 70.03L2998.65 70.02L3000.72 70.02L3002.78 70.02L3004.85 70.01L3006.91 70.01L3008.98 70.01L3011.05 70L3013.11 70L3015.18 70L3017.25 69.99L3019.31 69.99L3021.38 69.99L3023.44 69.99L3025.51 69.98L3027.58 69.98L3029.64 69.98L3031.71 69.98L3033.77 69.97L3035.84 69.97L3037.91 69.97L3039.97 69.97L3042.04 69.96L3044.1 69.96L3046.17 69.96L3048.24 69.96L3050.3 69.95L3052.37 69.95L3054.44 69.95L3056.5 69.95L3058.57 69.95L3060.63 69.95L3062.7 69.94" stroke="#a13fa9" stroke-width="5" fill="none" stroke-linejoin="round"/>
<path d="M2194.7 752.78L2208.4 776.51L2181 776.51Z" stroke="#a13fa9" stroke-width="4.2" fill="#fff" stroke-linejoin="round"/>
<path d="M2244 495.47L2257.7 519.2L2230.3 519.2Z" stroke="#a13fa9" stroke-width="4.2" fill="#fff" stroke-linejoin="round"/>
<path d="M2298.24 304.24L2311.94 327.97L2284.54 327.97Z" stroke="#a13fa9" stroke-width="4.2" fill="#fff" stroke-linejoin="round"/>
<path d="M2352.47 195.86L2366.17 219.58L2338.77 219.58Z" stroke="#a13fa9" stroke-width="4.2" fill="#fff" stroke-linejoin="round"/>
<path d="M2406.7 134.42L2420.4 158.15L2393 158.15Z" stroke="#a13fa9" stroke-width="4.2" fill="#fff" stroke-linejoin="round"/>
<path d="M2460.93 99.6L2474.63 123.33L2447.23 123.33Z" stroke="#a13fa9" stroke-width="4.2" fill="#fff" stroke-linejoin="round"/>
<path d="M2515.17 79.86L2528.87 103.59L2501.47 103.59Z" stroke="#a13fa9" stroke-width="4.2" fill="#fff" stroke-linejoin="round"/>
<path d="M2569.4 68.68L2583.1 92.41L2555.7 92.41Z" stroke="#a13fa9" stroke-width="4.2" fill="#fff" stroke-linejoin="round"/>
<path d="M2623.63 62.34L2637.33 86.07L2609.93 86.07Z" stroke="#a13fa9" stroke-width="4.2" fill="#fff" stroke-linejoin="round"/>
<path d="M2677.86 58.74L2691.56 82.47L2664.16 82.47Z" stroke="#a13fa9" stroke-width="4.2" fill="#fff" stroke-linejoin="round"/>
<path d="M2732.1 56.71L2745.8 80.43L2718.4 80.43Z" stroke="#a13fa9" stroke-width="4.2" fill="#fff" stroke-linejoin="round"/>
<path d="M2786.33 55.55L2800.03 79.28L2772.63 79.28Z" stroke="#a13fa9" stroke-width="4.2" fill="#fff" stroke-linejoin="round"/>
<path d="M2840.56 54.9L2854.26 78.63L2826.86 78.63Z" stroke="#a13fa9" stroke-width="4.2" fill="#fff" stroke-linejoin="round"/>
<path d="M2894.79 54.53L2908.49 78.25L2881.09 78.25Z" stroke="#a13fa9" stroke-width="4.2" fill="#fff" stroke-linejoin="round"/>
<path d="M2949.03 54.32L2962.73 78.04L2935.33 78.04Z" stroke="#a13fa9" stroke-width="4.2" fill="#fff" stroke-linejoin="round"/>
<path d="M3003.26 54.2L3016.96 77.92L2989.56 77.92Z" stroke="#a13fa9" stroke-width="4.2" fill="#fff" stroke-linejoin="round"/>
<path d="M3057.49 54.13L3071.19 77.86L3043.79 77.86Z" stroke="#a13fa9" stroke-width="4.2" fill="#fff" stroke-linejoin="round"/>
<path d="M3062.7 54.12L3076.4 77.85L3049 77.85Z" stroke="#a13fa9" stroke-width="4.2" fill="#fff" stroke-linejoin="round"/>
</g>
<path d="M2468.6 212.9H2607.4" stroke="#e2262b" stroke-width="5" fill="none"/>
<rect x="2529.4" y="204.1" width="17.6" height="17.6" rx="0.8" stroke="#e2262b" stroke-width="4" fill="#fff"/>
<text x="2619.5" y="224.4" fill="#e2262b" font-family="'Liberation Serif', serif" font-size="55.6" >simulation current</text>
<path d="M2468.6 287.3H2607.4" stroke="#3050a8" stroke-width="5" fill="none"/>
<circle cx="2538.2" cy="287.3" r="9.6" stroke="#3050a8" stroke-width="4" fill="#fff"/>
<text x="2619.5" y="300.2" fill="#3050a8" font-family="'Liberation Serif', serif" font-size="55.6" >standard current</text>
<path d="M2468.6 364.6H2607.4" stroke="#a13fa9" stroke-width="5" fill="none"/>
<path d="M2538.2 349.85L2550.8 371.67L2525.6 371.67Z" stroke="#a13fa9" stroke-width="4" fill="#fff" stroke-linejoin="round"/>
<text x="2619.5" y="376" fill="#a13fa9" font-family="'Liberation Serif', serif" font-size="55.6" >action integral</text>
</svg>
</body></html>
